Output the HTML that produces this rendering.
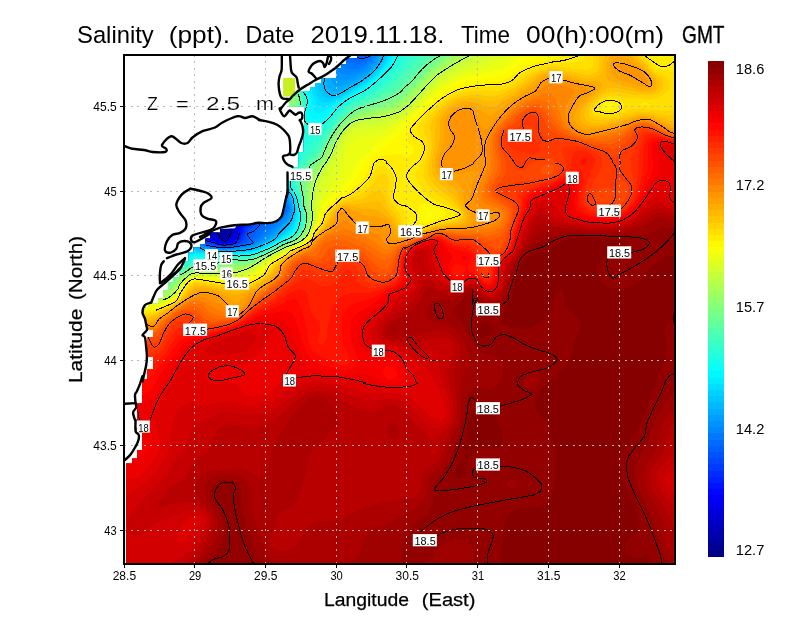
<!DOCTYPE html>
<html><head><meta charset="utf-8"><title>Salinity</title>
<style>html,body{margin:0;padding:0;background:#fff}svg{display:block}text{font-family:"Liberation Sans",sans-serif}</style></head>
<body>
<svg width="800" height="618" viewBox="0 0 800 618">
<rect width="800" height="618" fill="#fff"/>
<defs><clipPath id="sea"><path clip-rule="evenodd" d="M126,54.5 676,54.5 676,564.5 126,564.5Z M126,54.5 357,54.5 357,58.5 346.2,58.5 346.2,64 341.2,64 341.2,68.5 336.2,68.5 336.2,78 321.5,78 321.5,83 315.2,83 315.2,87 310.2,87 310.2,91.6 304.2,91.6 298.5,91.6 289.1,100.5 289.1,106.6 304.2,106.6 303.8,152.5 298.8,152.5 298.8,167.5 292,167.5 292,180 288.8,180 288,190 287,195 285,202.5 283,211 281,217 276,221.5 267.5,223 257.5,223 250,224.5 237.5,225 235,228.8 220,228.8 220,232.5 210,232.5 210,238.8 205.6,238.8 205.6,244 200,244 200,247.5 193.8,247.5 193.8,252 188.8,252 188.8,261 184.4,261 184.4,267 179.4,267 179.4,277.5 173,277.5 173,282.5 168,282.5 168,290 163,290 163,298.8 158,298.8 158,303.8 148.8,303.8 148.8,307.5 146,307.5 143.5,312.5 146,318.8 147,325 147.5,329.4 153,329.4 153,337 147,337 147.5,347.5 148,357 153,357 153,369.4 147,369.4 147,379 142,379 142,403 137.5,403 137.5,420 136.5,433 142,433 142,450 137,450 137,458.8 132,458.8 132,463.8 126,463.8Z"/></clipPath></defs>
<g clip-path="url(#sea)" shape-rendering="crispEdges">
<rect x="124.0" y="54.5" width="552.5" height="510.5" fill="#00009f"/>
<path fill-rule="evenodd" fill="#0000ac" d="M124,54 676,54 676,567 124,567ZM220,224.9 219.5,231 220.8,234 223,235.5 226,235.1 227.9,231 227.5,228 226.1,225 223,223Z"/>
<path fill-rule="evenodd" fill="#0000b9" d="M124,54 676,54 676,567 124,567ZM220,213.9 217,216.3 215.7,219 214.8,222 215.4,228 217.7,234 220,236.4 223,237.8 226,237.7 229.6,234 230.5,231 229.9,225 226,218.1 223,215.1Z"/>
<path fill-rule="evenodd" fill="#0000c6" d="M124,54 676,54 676,567 124,567ZM217,206.4 214,207.8 210.8,213 209.6,219 210.8,225 213.2,231 218,237 223,239.2 226,239.2 229.8,237 231.6,234 232.7,228 232,223.3 229,216.2 223,207.9 220,206.3Z"/>
<path fill-rule="evenodd" fill="#0000d2" d="M124,54 676,54 676,567 124,567ZM208,197.9 203.7,207 203.3,210 205.2,219 208.6,228 212.3,234 215.6,237 221.4,240 227.4,240 232,236.4 234.4,228 233.1,219 229,207.5 226,201 223,196.7 220,196.6 217,198.5 211,197.5Z"/>
<path fill-rule="evenodd" fill="#0000df" d="M124,54 676,54 676,567 124,567ZM202,185.7 199,186.2 198,189 195.6,201 195.9,204 199,213 205.7,228 209.6,234 213,237 218.5,240 223,241.2 230,240 233.2,237 234.6,234 236,225 235,214.4 233.4,207 229,196.1 224.3,189 220,185.4 217.8,186 214,189.3Z"/>
<path fill-rule="evenodd" fill="#0000ec" d="M124,54 676,54 676,567 124,567ZM187,171.9 183.1,186 183.5,189 187.4,198 204.9,231 210.4,237 220,241.3 226,242 232,240 234.8,237 236.8,231 237.7,225 237.8,210 236.6,204 229.3,192 223,184.7 217,179.7 205,174 199,174.1Z"/>
<path fill-rule="evenodd" fill="#0000f9" d="M124,54 676,54 676,567 124,567ZM169,147 166,150 167.9,156 168.9,165 170.4,168 172.4,177 184,199.9 202.7,231 207.7,237 213.5,240 220,242.2 226,242.8 233.8,240 236.1,237 237.3,234 239.3,225 241.1,210 241.1,207 239.8,204 228.7,189 220,180 211,173.6 193,158.9 184,153.5Z"/>
<path fill-rule="evenodd" fill="#0006ff" d="M124,54 676,54 676,567 124,567ZM148,131.7 148.8,135 160,156.2 168,177 173.9,189 188.2,213 202.8,234 208,238.6 220,243 229,243 235.5,240 238.6,234 243.4,213 243.9,207 242.4,204 223,181.2 208,169.1 179.8,144 175.3,141 160.7,135 152.4,132Z"/>
<path fill-rule="evenodd" fill="#0013ff" d="M124,54 676,54 676,567 124,567ZM139,127.2 137.8,129 148,152.8 159.8,174 176,201 200.9,234 203.7,237 208,240 220,243.6 229,243.6 232,242.9 237,240 239.8,234 246.6,210 244.7,204 238,197.1 229.1,186 220,176.9 208,167.4 178.5,141 165.1,135 160,133.8 149.9,129 142,127.1Z"/>
<path fill-rule="evenodd" fill="#0020ff" d="M124,54 676,54 676,567 124,567 124,153.9 124.7,153 124,152.4 124,129.6 130,136.6 145,159.4 151,169.9 155.6,180 161.1,189 170.3,201 185.9,219 199.1,234 205,239.5 214.6,243 223,244.6 229,244.2 235,242.6 238.5,240 240.2,237 249.3,213 249.5,210 246.8,204 238.1,195 226,180.7 220,175.1 208,165.9 180.4,141 174.8,138 160,132.7 145.4,126 136,123.1 130,122.4 124,119.9Z"/>
<path fill-rule="evenodd" fill="#002dff" d="M124,54 676,54 676,567 124,567 124,168.8 127,169.8 159.4,198 165.1,204 178,214.9 200.3,237 204,240 208,241.8 223,245.2 229,244.9 236.2,243 240.1,240 244,229.4 252.7,213 252.6,210 249.2,204 227.5,180 220,173 205,161.7 181.8,141 176.5,138 157,130.6 147.6,126 139,122.8 133,121.8 124,118.2Z"/>
<path fill-rule="evenodd" fill="#0039ff" d="M124,54 676,54 676,567 124,567 124,185.8 127,187.2 145,200 154,203.6 160,207.1 187,227.1 202.3,240 208,242.8 217,244.9 223,245.8 232,245 238.1,243 241,240.6 246.5,228 254.7,216 255.8,213 254.2,207 248,198 231.1,180 220,169.9 205,160.1 183.1,141 178,137.9 160,131.2 142,123 133,120.7 124,116.9Z"/>
<path fill-rule="evenodd" fill="#0046ff" d="M124,54 676,54 676,567 124,567 124,191.3 139,201.6 148,209.7 154,213.3 166,218 181,226.4 202,240.8 208,243.6 219.5,246 226,246.3 232,245.6 241,242.2 243.5,240 247,230.2 258.1,216 258.8,213 254.2,198 250,190.8 235,176.7 226,170.6 217,162.3 214,160.2 208,159.6 205,158 184.3,141 179.5,138 166,132.3 160,130.6 143.7,123 130,118.8 124,116.2Z"/>
<path fill-rule="evenodd" fill="#0053ff" d="M124,54 676,54 676,567 124,567 124,206.3 139,210.5 154,219.3 178,228.1 187,232.5 205,243.4 223,246.9 235,245.7 242.2,243 244,241.5 245.6,240 247,234 248.8,231 259.6,219 261.5,216 262,213 258.4,198 253,187.7 235,169.5 226,164.8 215.8,156 211,154.3 205,154.3 202,152.8 180.9,138 166,131.6 160,130 145,122.8 133,119.3 124,115.6Z"/>
<path fill-rule="evenodd" fill="#0060ff" d="M124,54 676,54 676,567 124,567 124,211.4 160,226.4 181,232.2 205,244.2 212.3,246 223,247.4 235,246.4 244.9,243 248.3,240 250,233.5 264,219 266.8,213 266.6,210 261.3,198 250,177.9 247,173.8 229,156.8 220,155 202,149.4 193,145.2 182.2,138 175,134.6 160,129.4 145,122.2 133,118.7 124,114.9Z"/>
<path fill-rule="evenodd" fill="#006cff" d="M124,54 350.1,54 352.4,57 355,58.5 361,59.4 367,57 368.3,54 676,54 676,567 124,567 124,216.2 166,232.1 178,233.9 184,235.7 205,245 217,247.4 226,247.9 238,246.3 248.3,243 252,240 254.7,234 262,225.9 271,218.7 280.8,213 283.9,210 283.5,207 280,203.6 274,201.5 268,200.4 265,198.3 260.3,192 247,168 238.8,159 229,153.8 217,152 196,145 175,134 160,128.7 145,121.6 133,118.2 124,114.3Z"/>
<path fill-rule="evenodd" fill="#0079ff" d="M124,54 339.9,54 341.5,57 346,61.5 349,63.3 355,64.8 361,64.1 367,61.5 370,58.8 372,54 676,54 676,567 124,567 124,219.7 166,235.1 187,238.7 208,246.6 220,248.3 229,248.3 242.9,246 252.1,243 255.6,240 266.3,228 286,213 287.2,210 286,204.7 283,201.2 277,197.9 265,193.7 262,190.8 247.7,165 241,158.3 229,152.1 217,150.4 193,142.7 175,133.3 160,128 145,121 133,117.6 124,113.7Z"/>
<path fill-rule="evenodd" fill="#0086ff" d="M124,54 334.6,54 336.7,60 340,64.6 346,68.7 352,69.7 358,68.9 367,64.8 372.1,60 374.5,54 676,54 676,567 124,567 124,222.1 151,232.6 169,238.5 190,241.1 208,247.3 220,248.9 229,248.9 247.3,246 255,243 286,215.7 289.2,210 289,207 287.7,204 286,200.7 283.2,198 265,189.6 262,186.7 256,177.8 249.9,165 247.6,162 241,156.9 229,150.8 214,147.9 193,141.6 175,132.6 157,126.1 142,119.1 133,117.1 124,113.1Z"/>
<path fill-rule="evenodd" fill="#0093ff" d="M124,54 330.6,54 333.3,63 337,69.4 340,72.3 343,73.9 349,74.7 358,72.6 367,67.7 373,62.2 376,57.1 376.7,54 676,54 676,567 124,567 124,224.3 151,235.3 169,240.7 190,242.7 211,248.5 223,249.6 232,249.2 250,246.3 257.5,243 268,235.4 286,218.2 289,214.4 290.4,210 289,202.6 286,197.6 282.9,195 265,185.4 262,182.9 257.7,177 249.8,162 241.6,156 229,149.4 193,140.3 178,133.1 158.5,126 142,118.4 133,116.4 124,112.6Z"/>
<path fill-rule="evenodd" fill="#009fff" d="M124,54 326.2,54 329,63 334,74 337,78.3 340,79.9 343,80.3 349,79.4 355,77.3 367,70.5 374.8,63 376.7,60 378.8,54 676,54 676,567 124,567 124,226.6 136,232.6 151,238.3 169,242.8 178,244 193,244.6 205,248.2 214,249.6 232,249.8 253,246.4 269.4,237 286,220.6 289.5,216 291.6,210 289.7,201 286,195.2 262,178.3 259,174.9 252.2,162 248.5,159 229,148 220,144.5 211,141.3 202,141.1 193,139 175,130.8 160.6,126 145,118.6 133,115.7 124,112Z"/>
<path fill-rule="evenodd" fill="#00acff" d="M124,54 322.3,54 331.6,81 334,85.1 337,86.5 340,86.4 349,83.2 358,78.8 367,73 373,67.8 377,63 380.9,54 676,54 676,567 124,567 124,229.1 142,238.9 154,242.3 166,244.6 178,246 193,245.9 208,249.6 220,250.7 232,250.4 244,249.1 256.7,246 272.2,237 289,219.5 292,213.5 292.6,210 291.8,204 289,196.7 286,193.2 273.3,183 262,172.5 259,168.8 255.9,162 252.3,159 247,157.2 238,152.6 229,146.6 211,137 202,138.5 195.3,138 156.7,123 145,117.6 133,115 124,111.4Z"/>
<path fill-rule="evenodd" fill="#00b9ff" d="M124,54 318.5,54 325.1,75 327.5,87 329.5,90 334,91.8 340,90.6 347.4,87 358.6,81 367.4,75 373,70.3 379,63 382.9,54 676,54 676,567 124,567 124,232.3 144.6,243 163,247 178,247.9 193,247.2 208,250.4 220,251.3 247,249.5 258.9,246 274.6,237 289,222.2 292.3,216 293.5,210 292.1,201 289.2,195 277,183 266.9,171 264.8,168 263.2,162 260.6,159 247,156.1 238,151.7 208,129.6 205,131.2 202,134.2 193,134.6 190,134 145,116 133,114.3 124,110.7Z"/>
<path fill-rule="evenodd" fill="#00c6ff" d="M124,54 151.4,54 163,68.6 169,73.2 169.9,72 169.1,69 163.7,63 160.6,57 159.9,54 314.5,54 320.6,75 322,87 323.1,90 325.3,93 328,94.8 331,95.5 337,94.6 340.8,93 361,81.7 370,75.1 376,69.4 381,63 384.9,54 676,54 676,567 124,567 124,235.1 127,235.9 139.8,243 148,246.6 154,248.5 163,249.7 172,250.1 196,248.7 208,251.3 220,251.9 247,250.3 253.6,249 261,246 272.6,240 276.8,237 289.1,225 292.4,219 294.4,210 292,197.9 289,193 282.3,186 275.4,177 270.3,168 268.5,162 266.4,159 262,157.2 247,155 236.6,150 224.9,141 215.5,132 204.3,117 199,114.9 197.4,117 197.1,120 198.8,126 196,128.7 193,128 187,129.9 181,128.3 151,115 142,112.5 136,113.6 124,109.5Z"/>
<path fill-rule="evenodd" fill="#00d2ff" d="M124,54 148.1,54 149.5,57 155.3,63 160,70.2 166,76.2 171.9,84 180.8,93 182.7,96 184,102 187.3,108 187.8,111 187,114.9 181.6,117 182.9,123 181,124.3 175.6,123 157,113.5 133,103.6 130,103.5 129.1,105 129.9,108 124,108.3ZM161.3,54 310.4,54 316.6,75 318.5,90 322.4,96 325,97.8 328,98.7 334,97.9 340,95.6 360.4,84 367,79.4 375.7,72 380.8,66 384.6,60 386.8,54 676,54 676,567 124,567 124,237.3 127,238 151,249.9 166,252.7 172,252.6 196,250 208,252.1 220,252.6 247,251.1 256,249.1 263.1,246 269.4,243 278.8,237 289.1,228 292.7,222 295.2,213 294.5,204 292,195.9 282.1,183 278.4,177 270.7,159 265.9,156 250,154.4 244,152.7 238,149.9 223.3,138 215.4,129 208,116.2 188.7,96 181,83.4 174.5,75 172,70.1 164.1,60Z"/>
<path fill-rule="evenodd" fill="#00dfff" d="M124,54 141.8,54 151,64.8 157,74.4 170.5,90 172.9,96 172.7,99 174.1,108 173.6,114 172,117 169,116.5 157,109.7 124,95.7ZM162.6,54 306.1,54 313.2,75 314.2,87 315.7,93 319.6,99 322,101 325,102 331,101.2 340,97.6 367,81.3 376,73.8 382.8,66 386.6,60 388.8,54 676,54 676,567 124,567 124,239 127,239.7 151,251.9 166,254.9 172.6,255 196,251.3 208,253 220,253.3 250,251.5 258.4,249 271.4,243 288.8,231 292,226.8 294.2,222 296.1,213 295.8,207 293.8,198 292,194.1 282.4,180 274,157.7 272.3,156 268,154.7 247,152.8 238,148.7 224.5,138 217,129 208.2,114 190.9,96 181.1,81 175.9,75 172.6,69 167.3,63Z"/>
<path fill-rule="evenodd" fill="#00ecff" d="M124,54 134.8,54 136.8,57 145.5,66 151,74.6 165.7,93 169.2,105 169,110 166,109.7 157,104.4 146.2,102 124,92.3ZM163.5,54 301.9,54 310.1,75 311,87 313,94.8 318,105 319,106.1 322,106.8 328,105.2 337,101.1 367,83.1 376,75.8 382.4,69 386.9,63 390.9,54 676,54 676,567 124,567 124,240.8 130,243 151,253.7 166,257 175,256.9 196,252.7 208,253.9 220,254 250,252.2 259,249.6 267.2,246 287.5,234 293,228 295,224 296.9,216 296.6,207 294.7,198 284.4,180 278,156 274,153.4 271.7,153 259,152.7 247,151.5 238,147.5 226,138.2 218.1,129 209.4,114 192.2,96 182.1,81 177,75 173.5,69 168.4,63Z"/>
<path fill-rule="evenodd" fill="#00f9ff" d="M124,54 131.6,54 133.2,57 142,66.2 147.8,75 155.3,84 160.5,93 160,95.6 154,93.9 145,95.1 135,93 124,89ZM164.2,54 297.7,54 307.2,75 308.8,90 311.8,99 313,108 314.1,111 316,113 319,113.4 325,110.7 349,95.6 361,89 370,82.6 378.9,75 387,66 390.6,60 393.1,54 676,54 676,567 124,567 124,242.9 151,255.6 166,259.1 175,259 196,254.2 220,254.8 250,253 259,250.4 269,246 289.7,234 295,227.5 296.9,222 298,216 297.8,210 295.5,198 286.3,180 283.5,168 282.8,156 281.3,153 274,151.2 259,151.4 247,150.2 238,146.1 227.2,138 219.2,129 210.6,114 191.2,93 174.4,69 167.2,60Z"/>
<path fill-rule="evenodd" fill="#06fff9" d="M124,54 127.2,54 128.3,57 135.5,66 136.7,69 133.3,72 130,72.6 124,71.8ZM164.9,54 293,54 295.9,60 302,69 304.4,75 306.6,90 309.6,99 309.4,114 310,116.6 313,119.3 316,119.7 322,117.6 337.6,105 349,97.4 364,89 376,79.7 389.2,66 395.5,54 676,54 676,567 124,567 124,245.9 151,257.7 163,261.1 175,261 196,255.6 217,255.7 250,253.8 259,251.1 270.7,246 291.6,234 295,230 297.4,225 299,216 298.6,210 296.3,198 290.1,186 287.3,177 286.2,168 287.2,156 286.8,153 283,150 280,149.6 256,150 247,148.5 238,144.5 228.7,138 220,128.5 211,113.1 193,94.2 184.1,81 178,73.8 175,68.6 168,60Z"/>
<path fill-rule="evenodd" fill="#13ffec" d="M165.7,54 287.9,54 289.4,57 298,67.5 301,73 304.8,90 308,99 308.2,105 306.2,114 306.6,120 310,124 313,125 316,124.9 322,122.4 340.7,105 349.2,99 365.5,90 376,81.9 389.4,69 395.5,60 398.5,54 676,54 676,567 124,567 124,248.4 157,262.3 166,263.6 178,262.4 196,257.1 250,254.6 265.9,249 292,234.9 295,232 297.4,228 299.7,219 299.8,213 297.1,198 291.4,186 289.2,177 288.8,168 291.7,156 291.4,150 289,148.7 283,147.7 256,148 250,147.3 241,144.3 230.7,138 221.7,129 211,111.8 193.1,93 184.9,81 178,72.7 175,67.5 168.7,60Z"/>
<path fill-rule="evenodd" fill="#20ffdf" d="M166.5,54 282.5,54 293.7,66 298,72.9 306.6,99 306.6,105 303.4,117 303.8,123 307,128.2 310,130.7 313,131.3 316,130.5 322,126.9 343.7,105 352,99.2 367,91.2 380,81 392.4,69 402.7,54 676,54 676,567 124,567 124,250.2 157,264.5 169,266 178,264.4 196,258.6 250,255.3 259,252.6 267.5,249 292,236.1 295,233.6 298,229.2 300.8,219 300.7,213 297.9,198 292.7,186 291.1,177 292,165 298.7,150 298.9,147 295,144.9 292,144.5 277,145.6 253,145.2 246.9,144 241,141.7 229,135 223,129 211.5,111 194.2,93 178.4,72 175,66.4 169.6,60Z"/>
<path fill-rule="evenodd" fill="#2dffd2" d="M167.3,54 277.3,54 292.6,69 298,79.9 304.5,96 305.4,99 305.3,105 300.7,120 301,124.3 303.4,132 303.1,138 301,140.4 298.9,141 292,141.3 280,143.3 268,143.3 259,142.7 250.6,141 241.4,138 232,133.7 223,126.3 212.9,111 195.3,93 179.3,72 175.7,66 170.5,60ZM408.7,54 676,54 676,567 124,567 124,251.9 157,266.7 169,268.3 178,266.4 196,260 235,256.6 247,256.4 253,255.4 268,249.5 292.3,237 295.9,234 299.7,228 301.4,222 301.9,216 298.8,198 293.3,183 293.4,171 295.2,165 305.2,150 307.7,144 322,131.4 340,111.1 346,105.6 352,101.4 370,91.6 386.9,78 396.2,69Z"/>
<path fill-rule="evenodd" fill="#39ffc6" d="M168.2,54 272.7,54 283,63 289,69.5 295,79.1 303.3,96 304.4,102 303,108 298.4,120 298,123 299.1,132 298.4,135 295,138.1 283,140.4 277,141.2 268,140.8 255.4,138 229,126 223,121.7 211.9,108 196,92 180.3,72 176.8,66 171.5,60ZM415,54 676,54 676,567 124,567 124,253.7 154,268.4 163,270.6 169,270.7 178,268.3 190,263.1 196,261.4 232,257.5 247,257.2 253,256.2 265,251.6 293.7,237 297.1,234 300.8,228 302.7,219 302.5,213 299.7,198 294.8,183 295.2,174 298.4,165 343,110.9 352,103.6 370,94.4 380.7,87 397,73.4 413,57Z"/>
<path fill-rule="evenodd" fill="#46ffb9" d="M169.1,54 268.5,54 270.8,57 281.1,66 289,75.3 298,88.2 302.1,96 303,99 302.8,105 295.9,120 295,132.1 293.1,135 289,136.3 277,138.5 268.7,138 259,134.9 226,116.6 220,112.8 199,93 181.4,72 177.9,66 172,58.9ZM419.4,57 421.5,54 676,54 676,567 124,567 124,255.7 136,263.3 151,271.2 160,273.9 166,274.1 172,272.6 190,264.5 196,262.7 235,258 247,258 253,257 265,252.3 295,237 298.2,234 301,229.6 302.7,225 303.6,219 303.4,213 300.5,198 296.3,183 297.3,174 301.7,165 316,150 330.1,129 340,116.9 346,110.8 355,104.1 376,94 390.9,84 401.4,75Z"/>
<path fill-rule="evenodd" fill="#53ffac" d="M171.1,54 261.3,54 263.5,57 289,80 295,86.8 300.9,96 301.9,99 301.6,105 293.2,120 290.3,132 286,133.9 274,134.7 271,134.6 262,132 243.2,120 232,114.9 220,107.5 208,98.4 191,81 183.6,72 180.4,66 175,60ZM425.5,57 427.8,54 676,54 676,567 124,567 124,258.7 136,267.8 145.9,273 154,276.4 163,277.7 169,276.4 190,265.9 196,264 232,259.2 247,258.9 253,257.7 265,252.9 295,237.8 299.2,234 301.3,231 304.2,222 304.3,213 297.9,183 299.6,174 304,166.2 307.5,162 317.5,153 332.2,129 346,113.2 355,106.4 378.8,96 394,87.2 406,76.4Z"/>
<path fill-rule="evenodd" fill="#60ff9f" d="M184.3,54 243.4,54 247,57 277,75.2 292,86.5 297.9,93 299.5,96 300.9,102 300.2,105 290,120 286.3,129 283,130.9 265,127.8 259,125.9 247,118 235,112.8 222.2,105 210.6,96 207.9,93 203.2,84 203.9,81 208.1,78 206.6,75 187.4,60 184.9,57ZM431.2,57 433.8,54 676,54 676,567 124,567 124,263.2 138.5,273 148,277.8 157,280.7 163,281 169,279.2 187,268.7 196,265.2 229,260.5 247,259.8 253,258.5 265,253.6 295,238.6 298,236.4 302.2,231 304.6,225 305.4,219 305.2,213 299.9,186 300.6,177 303.6,171 308,165 319,155.1 326.5,141 334.1,129 343,118.3 355,108.6 382,97.9 397,89.9 409.9,78 421,66Z"/>
<path fill-rule="evenodd" fill="#6cff93" d="M436.7,57 439.5,54 676,54 676,567 124,567 124,267.7 151,282.4 157,284 163,284.2 169,281.9 181.6,273 193,267.2 232,261 250,260.2 262,255.7 295,239.4 301.3,234 304.5,228 306,222 306.1,213 301.5,186 301.8,180 302.8,177 310,166.1 320.6,156 329.9,138 335.7,129 346,117.4 355,110.6 385,99.6 397.9,93 412,80.2 424,67.2ZM206.6,60 208,59.2 211,59.5 241,67.9 262,74.8 280,82.2 289,87.2 295,91.8 298,95.6 299.3,99 298.7,105 283,124.2 280,126.4 277,126.2 259,119.8 237.2,108 234.8,105 235,96 232,90 220,76.1 209.1,66 207.3,63Z"/>
<path fill-rule="evenodd" fill="#79ff86" d="M441.4,57 443.6,54 676,54 676,567 124,567 124,271.5 151,285.3 157,287 163,287.2 169,284.6 181,274.6 193,268.3 232,262.3 244,262.2 250,261.1 268,253.6 298,238.2 302.3,234 304.1,231 306.3,225 307.2,219 303.2,186 304,179.5 306.6,174 311,168 322,156.8 329.8,141 337.3,129 346,119.2 355,112.5 361,109.8 385.7,102 400,94.8 412,83.8 425.8,69ZM234.1,81 238,80.7 268,84.6 283,88 289,90.3 295,94.3 297.8,99 298,102.2 295,107.2 279.8,120 277,121.6 271,120.5 256,113.5 252.1,111 235.6,87 234,84Z"/>
<path fill-rule="evenodd" fill="#86ff79" d="M447,54 676,54 676,567 124,567 124,275.2 151,287.9 157,289.7 163,289.9 169,287.2 181,275.9 193,269.3 217,266.3 229,263.9 241,263.6 250,262.1 265,255.7 298,239.1 304,232.8 306.3,228 307.8,222 308.2,216 306.3,204 305,189 305.9,180 311.1,171 322.1,159 332.8,138 340,127.4 349,118.3 358,112.7 385,104.7 400,97.7 406,93 427,71.1 442,59.7 445,57ZM249.9,93 262,93.5 277,92.6 286,92.9 292,94.8 293.7,96 295.8,99 295.9,102 294,105 289,108.2 274,115.6 271,115.7 258.1,111 254.3,108 248.2,96Z"/>
<path fill-rule="evenodd" fill="#93ff6c" d="M450.3,54 676,54 676,567 124,567 124,279.3 152.6,291 157,292.2 163,292.3 169,289.6 182.4,276 193,270.4 232,265.3 241,265.1 250,263.2 259,259.4 298,239.9 304.2,234 307.2,228 308.7,222 309.1,216 307.4,204 306.7,189 308,180 313.3,171 323.6,159 334,138.3 340.1,129 346,122.5 355,115.9 364,112.4 388,106.1 397,102.2 402.2,99 409.2,93 429.2,72 445.2,60ZM285.3,99 289,98.2 292,98.9 292.1,102 289,103.1 283.7,102Z"/>
<path fill-rule="evenodd" fill="#9fff60" d="M452,57 454,54 676,54 676,567 124,567 124,283.1 154,293.8 163,294.4 169,291.7 172,289.1 181,278.3 187,274.1 193,271.3 241,266.6 247,265.3 259,260.3 299.1,240 305.2,234 308,228 309.6,222 310.1,216 308.6,204 308.4,192 308.6,186 310.2,180 315.4,171 325.1,159 335.5,138 343,127.3 351,120 358,116.2 388,108.5 400,103.3 409,96.3 432.5,72Z"/>
<path fill-rule="evenodd" fill="#acff53" d="M456.1,57 458.6,54 676,54 676,567 124,567 124,286.3 151,295.2 157,296.4 163,296.2 168.3,294 172,291.1 181.5,279 187,275.1 193,272.3 199,271.2 223,270.2 241,268.1 247,266.6 256,262.8 300.3,240 306.1,234 308.9,228 310.6,222 311.1,216 309.8,204 310,192.5 310.6,186 312.4,180 317.5,171 326.6,159 336.9,138 343.1,129 349.2,123 358,117.9 385,111.9 394,109 400,106.1 409,99.3 433,74.3Z"/>
<path fill-rule="evenodd" fill="#b9ff46" d="M461.5,57 464.4,54 676,54 676,567 124,567 124,289.4 149.1,297 157,298.2 163,297.8 169,295.2 172,292.9 182.9,279 190,274.4 196,272.5 223,271.9 244,269.1 253,265.5 283.3,249 301.5,240 307,234 311.6,222 312.2,216 311.3,204 311.7,195 312.8,186 314.7,180 319,172.2 329.9,156 337,140.4 344.9,129 352,122.7 358,119.7 385,114.5 400,109 409.3,102 435.5,75Z"/>
<path fill-rule="evenodd" fill="#c6ff39" d="M468.8,57 471.9,54 676,54 676,567 124,567 124,292.5 148,298.9 157,299.9 163,299.3 168.7,297 172,294.5 181.3,282 184.2,279 190,275.3 196,273.4 226,273.4 244,270.7 250,268.5 284.7,249 302.6,240 307.9,234 312.6,222 313.3,216 313,199.4 316,183 320.4,174 330.3,159 340,138.2 346,130 352,124.8 358,121.8 385,117.3 400,111.9 412,102.5 436,77.6 451,67.5Z"/>
<path fill-rule="evenodd" fill="#d2ff2d" d="M478,57 482,54 676,54 676,567 124,567 124,295.7 148,301 157,301.5 163,300.7 172,296.1 182.5,282 185.6,279 190.6,276 199,274.2 226,275 244,272.5 253,268.7 275.2,255 301,241.9 306.8,237 308.9,234 313.8,222 314.6,216 314.9,201 316,193.8 319,182.8 322,176.5 332.9,159 340,142.2 346.8,132 352,127.4 358,124.4 382,121.4 391,118.7 400,114.8 412,105.7 439,78.6 454,69.2Z"/>
<path fill-rule="evenodd" fill="#dfff20" d="M492.4,57 495.9,54 676,54 676,567 124,567 124,298.6 148,303 157,303 163,302 172.6,297 183.7,282 190,277.3 193,276 199,275.2 229,276.4 241,275 247,273.5 253,270.6 266.7,261 276.9,255 301,242.7 307.8,237 312.6,228 315.7,219 316.9,204 322,185.3 325,178.5 335.4,162 343,142.6 349,133.8 355,129.1 358,128.1 379,126.6 388,123.7 397,119.6 409,111.5 433,87.8 442,80.2 457,71.8 487,60.1Z"/>
<path fill-rule="evenodd" fill="#ecff13" d="M508.8,57 512.4,54 676,54 676,567 124,567 124,301.4 148,304.9 154,304.8 163,303.2 169,300.6 174.2,297 185,282 190,278.2 196,276.3 226,278 241,276.8 247,275.6 256,271 268.6,261 273.6,258 289.1,249 301.8,243 308.7,237 312.2,231 316.3,222 319,206.9 322,199.1 341.2,171 343.4,159 346,150.5 349,145 354.8,138 379,133.5 394,125.3 409,114.7 439,86.7 451,78.9 469,71.6 493,64.9ZM358,145.7 358,147.5 361.2,147 361,145.8Z"/>
<path fill-rule="evenodd" fill="#f9ff06" d="M519.5,57 521.8,54 676,54 676,567 124,567 124,304.3 148,306.9 154,306.5 163,304.4 169,301.7 175,297.7 186.3,282 193,278 199,277.3 223,279.5 232,279.3 247,277.7 256,273.5 270.7,261 289,249.9 303.1,243 307,240 311.5,234 317.8,222 321,210 324,204 347.1,180 358.3,162 375.9,144 394,131.3 436,93.3 448,84.8 460,79.2 472,75.4 491.7,72 500.8,69 511,63.8Z"/>
<path fill-rule="evenodd" fill="#fff900" d="M535.4,57 542.2,54 676,54 676,567 124,567 124,307.2 148,308.8 154,308.1 163,305.5 175,299 187,282.8 193.1,279 199,278.4 229,281 247,279.8 255.9,276 262,271.3 268.7,264 272.7,261 289,250.7 304,243.3 308,240 317.8,225 322.4,213 325.7,207 337,196 346,189 352.2,183 357.2,177 366.2,162 370,157.3 376,152.1 391,143.2 397,138.5 403.3,129 408.6,123 439,94.9 451,87.2 463,82.5 472,80.1 496,76.8 502,75.3 508.6,72 523,61.7ZM427,211.6 425.9,213 425.8,216 427,217.6 430,217.4 432.4,216 432.2,213 430,211.5Z"/>
<path fill-rule="evenodd" fill="#ffec00" d="M560.1,57 565.6,54 656.1,54 658,56.4 661,57.4 664,56.2 666.4,54 676,54 676,567 124,567 124,310.2 148,310.7 154,309.8 163,306.7 175.3,300 178.3,297 187,284.3 193,280.3 199,279.6 229,282.6 247,281.9 254.7,279 262,273.9 270.8,264 274.6,261 289,251.6 304,244.1 309,240 321.1,222 324.7,213 328.8,207 337,199.4 349.1,192 359.4,183 364.6,177 372.7,162 376,158.9 379,157.2 385,155.5 400,153.9 406,156.8 409,156.4 412,154.4 414.6,150 414.2,147 409,143.2 407.7,141 407.8,135 409.3,129 416.4,120 425.3,111 442,96.5 454,89.5 466,85.6 502,80.8 508.8,78 520,69.8 529,65.4 538,62.3ZM604,104.2 601.9,108 604,110.3 605.9,111 610,110.8 614.5,108 614.5,105 610,102.7 607,102.8ZM424,203.4 421,204.5 418.9,207 418.2,210 418.1,219 418.8,222 421,223.3 427,223.1 438.3,219 444.2,216 446.3,213 442.3,210 430,204.5Z"/>
<path fill-rule="evenodd" fill="#ffdf00" d="M584.7,54 645.3,54 655,67.7 657.2,69 676,71.4 676,567 124,567 124,313.1 148,312.7 154,311.5 163,307.9 176.7,300 179.6,297 187,286.1 193,281.6 199,280.9 229,284.4 247,283.8 256,280.2 265,273.5 270,267 276.5,261 289.7,252 307,242.9 312.4,237 320.9,225 326.8,213 331.4,207 340,199.8 351.1,195 360.2,189 369.2,180 376,168.6 379,166.4 382,166 385,166.9 390.6,171 392.8,174 394.3,180 393,192 393.4,198 397,204 403.4,210 405.4,213 406.9,222 409,225.4 418,226.5 424,226.2 448.4,219 455.9,216 456.6,213 454,209.9 448,206.2 433,199 427.5,195 421.8,189 416.6,180 415.9,174 416.4,171 421,161.7 424.6,150 424,143.2 416.8,132 416.6,129 417.7,126 421.6,120 429.6,111 439.5,102 448,96.2 457,91.7 472,88.1 499,86.2 505,84.7 512.8,81 523,73.2 535,67.2 553,63.1 571,63 577,61.9 582,60 584.1,57ZM610,98.8 604,100.4 601,102.2 598,105 596.3,108 596.5,111 601.6,114 610,114.4 619,111.2 623,108 624.5,105 622.5,102 616,99.4ZM643,101.8 642,102 640.1,105 643,105.8 651.1,105 646,102.1Z"/>
<path fill-rule="evenodd" fill="#ffd200" d="M593.4,54 641.5,54 642.9,57 648.2,63 652,69 655,71.6 662.7,75 666.7,78 669,81 669.8,84 668.6,90 666.1,93 658,97.9 652,98.6 631,98.4 613,95.3 604,97.3 597.1,102 592.5,108 592,111.3 593,114 595,115.7 601,117.3 610,117.1 619,114.6 631,109.2 634,108.8 664,110.7 676,108.5 676,567 124,567 124,315.9 148,314.7 154,313.2 160,310.5 169,306 178.2,300 189.9,285 196,282.3 229,286.2 247,285.7 253,283.8 264.9,276 272,267 278.2,261 291.2,252 308,243 322.5,225 331,210 337,204.1 343,200.5 358,195.6 363.8,192 370.9,186 379,175.3 382,173.9 385,174.5 388,178.1 388.6,183 388,192 390.1,201 400,214.9 403.3,225 406,228.4 409,229.3 424,228.1 436,223.8 457.1,219 460.2,216 460.1,213 458.1,210 451,203.3 433,191.3 427,184.3 423.8,177 423.5,171 428.6,147 427.8,141 424.5,132 424.1,126 426.8,120 431.3,114 444,102 457,94.8 472,91.5 496,91.2 502,90.1 511,86.3 529,73.9 541,68.3 550,66.5 556,66.2 571,68.5 586,69.7 590,69 593.2,66Z"/>
<path fill-rule="evenodd" fill="#ffc600" d="M600.3,54 638.2,54 639.7,57 652,71.9 660.5,78 662.7,81 663.5,84 663.3,87 661.8,90 658.6,93 652,95.5 634,94.9 616,91.8 607,92.8 598,98.2 590.9,105 588.5,111 588.5,114 589.9,117 595,119.7 607,120 619,117.3 631,112.8 640,111.8 649,112.2 667,115.8 676,115.2 676,567 124,567 124,318.7 148,316.6 154,315 169,307.1 178,301.2 182.3,297 190,287 193,284.9 196,284 202,284.1 232,288.4 247,287.6 253,285.6 267.2,276 274,267 279.9,261 292,252.4 304,246.5 309,243 324.2,225 330.8,213 337,205.9 343,202.4 358,199.7 363.2,198 376,191 379,190.1 382,191.9 389,207 397,217.2 401.5,228 403,229.9 406,231.5 409,231.7 424,229.3 436,225.3 454.3,222 460,219.9 462.7,216 462.3,213 460,208.8 451,198.4 439,189.3 433,183.5 430,179 428.3,174 428.3,165 431.5,150 432,144 429.7,126 431.7,120 438.2,111 448,102.6 460,96.8 466,95.4 475,94.7 493,96.5 502,94.3 516.3,87 535,73.7 544,70 556,68.9 577,72.6 586,75.5 592,74.2 596.4,72 598.6,69 598.9,60Z"/>
<path fill-rule="evenodd" fill="#ffb900" d="M605.9,54 634.4,54 636.2,57 658.8,81 659.6,84 659.1,87 657.1,90 655,91.6 649,93.3 634,91.6 616,87.9 610,87.8 607,88.6 593.4,99 587.6,105 584.8,111 584.3,114 584.6,117 586.3,120 592,122.8 604,122.8 616,120.5 634,114.7 643,113.9 652,114.8 670,120.7 676,121.1 676,567 124,567 124,321.5 148,318.5 154,316.9 178,302.4 181,300 190,289.4 196,285.9 205,286.1 235,291.2 247,289.5 253,287.4 269.4,276 275.8,267 281.5,261 292,253.4 306.5,246 310,243.1 319,232 326,225 334.9,210 340,205.6 343,204.2 361,203.5 376,201.2 379,201.7 394,218.4 400.1,231 403,233.2 406,234 424,230.4 436,226.3 454,223.7 460.6,222 464.2,219 465,216 462.9,210 454,195.8 436,180 433,174.9 432,171 431.9,162 435.5,144 434.5,126 436.2,120 442.3,111 451,103.9 457,100.8 463,99 469,98.2 475,98.5 490,101.7 499,100 517.4,90 537.8,75 547,71.6 553,71.2 559,71.9 574,74.9 586,79 595,77.1 599.4,75 601.7,72 603.5,60Z"/>
<path fill-rule="evenodd" fill="#ffac00" d="M609.4,57 611.6,54 628.8,54 643,66.5 653.3,78 655.7,81 656.5,84 655.7,87 652,90.2 646,90.8 628.3,87 609,81 606.3,78 606.1,69 606.5,63ZM543.2,75 550,73.6 556,73.9 574,77.4 583,81.1 586,81.6 598,80.8 601,81.8 602.5,84 599.9,90 586.4,102 580.8,111 579.8,117 580.5,120 582.4,123 586,125.3 592,126.3 607,124.7 619,121.9 634,116.8 643,115.5 652,116.8 670,124.2 676,125.7 676,567 124,567 124,324.2 139,321.3 151,320.1 154,318.9 178.7,303 182.7,300 190,291.9 196,288.1 202,287.6 208,288.4 235,295 253,289.3 271,276.6 279.9,264 286.8,258 292,254.3 307,246.7 310,244.3 319,233.5 328,225 336.8,210 340,207.4 343,206.1 349,206.1 361,208.6 373,209.5 379,210.9 391,219.5 398.8,234 403,235.8 409,235.4 425.6,231 436,227.3 457,224.9 465,222 467.3,219 467.5,216 457,192.2 454,188.5 439,176.6 436,171.6 435,168 435.4,159 439.5,141 439.5,123 441.9,117 446.5,111 451,107.2 457,103.9 463,102 472,101.7 490,107.4 496,106.4 522.8,90 537.8,78Z"/>
<path fill-rule="evenodd" fill="#ff9f00" d="M617.7,57 622,56.9 628,59.1 643,69.4 652.6,81 653.3,84 652,86.8 649,88.1 641.1,87 622,80.6 616.4,78 613,75.3 610,69 610.3,63 613,59.1ZM542.6,78 550,76 559,77 574,80.1 583,83.6 592,84 595,85 596.6,87 595.7,90 581.9,102 577.7,108 575.3,114 575.2,120 576.4,123 579.1,126 583,128.2 589,129.5 604,127.6 619,124.1 634,118.6 643,117.1 652,118.5 673,128.4 676,128.8 676,567 124,567 124,327.1 139,323.5 151,322.2 154,321 180.4,303 193,292.4 199,290.1 210.2,291 221.1,294 227.4,297 235,302.3 238,302.8 241.9,297 244,295.4 253,291.2 270.7,279 276.1,273 281.5,264 288.3,258 295,253.6 307,247.8 310,245.5 319,235.1 330.5,225 332.7,222 337,212.6 340,209.5 343,208.2 349,209.1 361,214.5 376,216.7 385,219.6 388,221.2 391,224.5 394.6,234 397,237 400,237.8 409,237 436,228.3 457,226.5 466,224.3 469.7,222 471.1,219 470.8,216 464.4,204 462.4,189 460.5,186 457.1,183 442,173.2 439,168.9 438,165 438.5,159 444,141 443.8,123 446.1,117 451,111.1 454,108.9 460,106 466,104.8 472,105.4 475,106.5 487,114.8 490,115.4 493,114.5 509.8,102 529,89.5Z"/>
<path fill-rule="evenodd" fill="#ff9300" d="M617.5,63 622,62.6 625,63.4 631.6,66 640,70.8 643,73.5 647.9,81 646.4,84 637.1,81 619,72.4 615.8,69 615.2,66ZM543.5,81 550,79 565,80.8 576.3,84 589,89.1 589.6,90 589,90.6 580,97.6 576.2,102 572.3,108 570.2,114 570.5,120 571.6,123 574,126.1 580,130.1 589,132.4 598,131.3 616,127.2 634,120.3 643,118.6 652,120.1 661,124 670,129.3 676,130.8 676,567 124,567 124,330.2 139,325.7 154,323.3 164.4,315 190,297.2 199,293 208,293.7 219.1,297 224,300 232,307.7 235,309.3 238,309 242.4,306 244,304 246.9,297 253,293.5 274,278.1 278.1,273 281,267 286.2,261 294.3,255 310,246.9 321.9,234 333.6,225 335.9,222 339.8,213 343,211.3 347.9,213 355,218.8 361,222 370,223.7 385.2,225 388.3,228 390.3,237 394,240.2 400,240.2 409,238.3 436,229.1 457,228.1 466,226.8 472.1,225 477.4,222 480.1,219 477.9,216 472,211 469,207.2 467.9,204 468.1,201 475.4,177 475.7,174 475,171.5 472,171 460,173.5 454,173 445,169 442.1,165 442.7,159 450.6,141 450.5,135 448.5,126 449.4,120 453.5,114 457.9,111 463,109.2 469,109.3 473.1,111 475.8,114 481,126.4 484,129.9 487,128.6 500.7,114 510.7,105 520,98.4 534.1,90Z"/>
<path fill-rule="evenodd" fill="#ff8600" d="M548.9,84 554.5,84 568,86.7 573.6,90 573.5,93 565.8,105 565.2,114 566.4,120 569.8,126 573.1,129 578.3,132 589,134.6 601,133.2 616,129.5 634,121.9 643,120 652,121.5 661,125.6 670,130.8 676,132.4 676,567 124,567 124,333.7 142,327.1 154,325.6 162.6,318 178,306.9 193,298 199,296.4 203.9,297 211,301.1 218.3,303 231.7,312 235,312.6 238,312 245.5,306 251.9,297 277,277.3 280,273 282.8,267 288,261 296.3,255 310,248.5 322,235.9 334.8,228 343,220.4 346,220.7 352.2,225 358,227.8 376,233.4 379,235.8 384.4,243 388,244.9 391,244.7 409,239.5 418,235.6 436,229.9 457,229.7 469,228.5 487.8,225 496,222 499,218.5 499.6,216 498.4,213 493,210.4 484,208.8 479.2,207 476.3,204 475.9,201 476.6,195 479,186 487.3,165 486,147 488.3,138 494.4,126 502,117 511.3,108 520,101.4 536.2,93 544,86.4Z"/>
<path fill-rule="evenodd" fill="#ff7900" d="M539,96 547,93.3 550,93.4 553,95.1 555.2,99 556.7,105 562.5,120 566.1,126 573.8,132 583,135.4 592,136.6 607,134.6 619,131 635.1,123 643,121.3 652,123 661,127 670,132.2 676,133.5 676,567 124,567 124,337.3 142,329.4 154,327.7 157,325.8 164.8,318 176.9,309 190,301.9 196,300.1 202,300.8 211,306.6 223,312.2 232,314.6 235,314.7 238,313.8 247,306.6 252.1,300 259,292.9 277.6,279 280.1,276 284.7,267 289.8,261 298.7,255 310,250.6 320,240 325,236.1 340,229.9 343,229.1 349,230 366.5,237 372.3,240 379,246 385,249.3 388,249.7 401.2,243 410.7,240 421,235.5 436,230.8 442,230.3 457,231.3 469,230.6 487,229 496,226.2 499,224.2 502,220.1 503,216 502.4,213 499,209.2 487,204.3 484,202 481.8,198 481.4,195 483,186 489.6,171 491.1,165 489.8,147 491.4,138 493.8,132 497.2,126 514,109 526,100.8Z"/>
<path fill-rule="evenodd" fill="#ff6c00" d="M530,102 535,100.6 541,100.1 546.2,102 551.9,108 560.1,123 565.6,129 574,134.1 586,137.9 598,138.6 610,136.8 622,132.3 634,124.9 643,122.6 652,124.3 670,133.3 676,134.7 676,567 124,567 124,341 142,331.7 154,329.7 157,328.2 163.7,321 175,311.8 184,306.5 193,303.6 199,303.8 202,305 211,312.8 215.7,315 229,316.4 238,315.4 247,308.2 260.2,294 279.7,279 282.1,276 286.7,267 291.9,261 301,255.4 313,251.9 322,241 331,236.4 340,235.1 349,236 365.4,243 379,251.8 385,254.1 388,254.1 391,252.6 398.3,246 403,243.6 421,236.2 436,231.6 442,231.2 457,232.9 484,232.5 493,231.1 499,228.3 502,225.5 504.1,222 505.8,216 505.4,213 503.9,210 500.6,207 489.2,201 486.6,198 485.2,192 486.3,186 494,168 494.5,162 492.6,147 493.8,138 497.5,129 502,123.4 519.1,108Z"/>
<path fill-rule="evenodd" fill="#ff6000" d="M529.4,105 538,103.9 544,106.3 548.8,111 555.7,123 561.3,129 574,136 586,139.6 598,141 610,140.3 622,135.3 634.9,126 643,124 652,125.6 670,134.3 676,135.7 676,567 124,567 124,344.8 130,342.1 142,334.2 145,333 154,331.8 157,330.5 165.9,321 173,315 181,309.7 187,307.3 193,306.4 199,307.8 208,316.2 214,318.7 229,318.5 238,316.6 247.8,309 262,294.5 280,280.9 284.2,276 289,266.9 294.5,261 299.3,258 304,256.2 316,255.9 319,252.5 322,245.8 325,243 331,240.5 337,240 349,241.8 364,248.2 379,258.5 385,260 388,259.4 391,257.3 397.1,249 400.8,246 421,237 436,232.4 442,232.1 457,234.5 475,234.5 487,235.9 493,234.8 499,232.4 502,230.1 505,225.9 507.8,219 508.3,213 507.3,210 504.9,207 491,198 489.1,195 488.5,192 489.3,186 495.7,174 497.5,168 497.8,162 495.1,147 495.9,138 498,132 502,126 520,110.4Z"/>
<path fill-rule="evenodd" fill="#ff5300" d="M528.8,108 535,106.9 541,108.9 546.1,114 553,126 560.3,132 574,137.9 592,142.7 607,144.5 613,143.7 625,137.1 634,128.4 638.9,126 643,125.4 652,127 669.2,135 676,136.6 676,567 124,567 124,348.7 130,346.5 143.8,336 157,332.9 160,330.7 166,323.3 172,317.7 181,311.6 187,309.5 193,309.5 196,310.6 205,319 211,321.6 217,321.8 226,320.7 238,317.8 249.2,309 262,296.6 281.3,282 286.5,276 292,266.4 297.8,261 304,258.4 307,258.3 316,259.9 319,259.4 322,257.7 328,249.5 334,246.2 346,247 361,251.9 367,255.5 377.6,267 382,269.3 385,269.5 388,268.4 391,265.4 396.9,252 399.2,249 403,246.1 421,237.8 436,233.1 442,233.1 457,236.3 475,236.6 490,239.9 496,238.4 502,235.4 505,231.4 508,224.8 510.1,219 511.1,213 510.6,210 509,207 505,203.6 495.6,198 492.6,195 491.5,192 492.4,186 499.9,174 501.5,168 501.4,162 497.5,147 498,138 502,128.8 513.6,120 523,111.3Z"/>
<path fill-rule="evenodd" fill="#ff4600" d="M529,111 535,110.3 538,111.3 541,113.7 548.8,129 553,132.3 562,136.2 574,140 607,148.4 613,148.7 616,147.9 622,144.6 628,139.9 633.2,132 636.3,129 640,127.5 646,127.2 652,128.4 670,136.2 676,137.5 676,567 124,567 124,353.2 133,349.8 145,338.8 148,337.5 154,337.1 157,336.1 160,334 170.9,321 178,315.6 184,312.8 190,312.1 193,313.2 202,321.4 208,324.3 217,324.1 229,321.8 238,319 241,317.2 262,298.8 271,292.6 283,282.9 289.1,276 295,266.6 298,263.7 304,261 307,261 316,263.2 322,263.3 328,261.2 337,254.1 343,252.9 349,253.4 355.8,255 362.4,258 365.8,261 373,271.4 379,274.7 385,275.6 391,273.3 393.3,270 397.3,255 401.1,249 405.3,246 421,238.5 436,233.9 442.2,234 457,238 475,238.9 484.8,243 496,249 499,248.8 502,246.4 505,239.9 512.1,219 513.7,210 512.9,207 510.7,204 496.8,195 494.8,192 494.7,189 495.9,186 503.8,177 505.3,174 506.6,168 506,162 500.2,147 500.2,138 502,132.7 505,128.7 515.1,123 524.2,114ZM547,164.3 544,165.5 541.3,168 540.4,171 542.2,174 547,174.9 550,174.3 554.3,171 554.3,168 553,166.4 550,164.5Z"/>
<path fill-rule="evenodd" fill="#ff3900" d="M527.1,117 532,114.5 535,115.1 537.1,117 538.4,120 540.6,132 544,137.1 547,139.1 565,140.5 581.8,144 606.1,153 613,157.3 616,157.6 628,147.7 633.5,141 636.8,132 642.4,129 652,129.9 670,137.1 676,138.4 676,567 124,567 124,359.2 136.2,354 148,344.2 157,341.9 160,338.9 170.9,324 175,320.5 181,317.1 187,316 190,317 199.5,324 205,326.6 208,327.1 226,324 238,320.1 241.6,318 262,301 271,295.6 283.8,285 290.1,279 298,267.9 301,265.6 304,264.4 307,264.4 322,268.8 328,269.5 331,268.8 340,260.3 346,258.6 352,259.1 357.6,261 361,263.3 369.8,276 373,278.3 379,280.2 385,280 391,277.7 394,275.2 396,270 398.8,255 402.9,249 407.4,246 421,239.2 436,234.8 439,234.6 445,235.9 454,239.4 469,240.2 475,241.5 482.4,246 490,252.9 493,253.9 496,253.8 500.5,252 504,249 505.8,246 516.3,210 516.1,207 514,201.9 511,198.9 501,192 500.7,189 505,185.8 517,181.7 544,178.7 550,177.4 556.7,174 559.6,171 560.7,168 559.8,165 556,160.9 553,158.7 550,157.7 534.1,162 528.9,165 526,168.4 520,170.2 517,167.7 505,150.1 503.6,147 502.7,141 505,133.1 508,130.5 520,126ZM619,182.6 616,188.2 613,189.8 607,188.1 604,188.2 598,190.5 593.8,195 592.3,198 593.7,201 604,203.4 613,202.4 619,204.6 622,203.5 625,200 628,193.9 628,186 625,181.6 622,180.4Z"/>
<path fill-rule="evenodd" fill="#ff2d00" d="M642.8,132 652,131.7 670,138 676,139.3 676,567 124,567 124,365.8 133,362.1 157,349.2 161.2,345 172,327.2 178,322.7 181,321.8 184,322.2 187.5,324 202,328.3 208,329.2 217,327.7 229,324.6 241,319.6 259,305.3 273.5,297 291.3,282 301,271.3 304,269.6 310,270.2 322,275.6 328,276.5 334,274.4 340,267.3 343,264.8 349,263.7 352,264.3 356.5,267 364,278.8 368.3,282 376,284 385,283.1 393.8,279 396.3,276 397.5,273 399.4,258 401.9,252 404.6,249 421,240 436,235.7 442,236.1 454,241.3 472,243.4 476.7,246 479.9,249 487,259.9 499,255.3 505,250.6 508.9,243 512.5,228 518.4,210 517,195 518.5,192 523,188.4 529,185.6 549.3,180 556,177.2 563.9,171 565.8,168 566.3,165 562,153 561.8,150 565,146.7 574,146 583,147.1 590.9,150 596.4,153 600,156 601.9,159 602.6,162 601.4,168 586.4,195 586.1,201 587.7,204 592,207 595,207.5 616,209.2 619,209.2 622,208.1 628,202.2 631.9,195 633.4,186 631.4,171 631,156 638.1,141 640.2,135ZM484,264.9 481.3,270 482,273 484,275.9 487,276.5 488.6,273 488.1,270 487,266.2ZM509.1,138 511,136.3 514,135.5 523,137.3 532,137.6 535,139.3 539,144 540.1,147 539.8,150 537.1,153 532,154.4 526,153.6 520,150.9 514,149.9 511,147.6 508.8,144 508.2,141Z"/>
<path fill-rule="evenodd" fill="#ff2000" d="M645.9,135 649,134 655,134.3 676,140.2 676,567 124,567 124,373.7 136,368.3 157,355.1 164,348 170.9,336 175,330.7 178,328.6 181,327.8 208,331 217,329.2 235,323.6 241,320.8 259,307.6 274,300.3 289,288.2 304,278.3 307,278.2 310,279.1 319,284.9 322,285.8 328,285.6 334,283.2 337,280.7 344.9,270 349,269.5 352.6,273 356.8,282 361,285.2 367,287.4 373,288 385,285.7 393.3,282 397,278.7 399.1,273 400.7,258 403,252.7 406.3,249 421,240.8 436,236.6 442,237.3 454,243.4 469,245.5 475,249 478.8,255 479.3,258 477.8,267 479.2,273 484,278.4 487,279.4 488,279 490.6,276 491.2,264 493.2,261 505.7,252 509.4,246 514.1,228 520.3,210 520.9,198 522,195 524.5,192 529,189 553,180.7 564.5,174 570.5,168 571.4,165 571.7,156 574,152.5 580,150.7 586,151.6 589.4,153 592,155.1 594.7,159 595.2,162 594.6,165 589,177.3 583.1,195 582.9,201 583.8,204 585.8,207 589,209.2 595,210.8 616,212 622,210.7 627,207 631.6,201 635.6,192 637,183 639,150 643,138.7Z"/>
<path fill-rule="evenodd" fill="#ff1300" d="M648.4,138 652,136.5 658,136.6 676,141.1 676,567 124,567 124,382.9 139,375.6 157,361.6 166,352 174.6,339 178,335.3 184,332.9 208,332.6 217,330.7 232,326.1 241,322.2 259,310.1 275.6,303 292,291.7 298,289.6 301,289.4 305,291 307.3,294 311.2,312 313,315.2 319.1,321 320.3,324 320.1,330 317.8,342 319,344.2 322,344.4 325.1,342 326.3,339 327.1,330 331.6,309 335.2,303 340,297.7 343,295.5 349,293.4 367,293.1 373,292.3 382,289.4 394,283.9 397,281.7 400,277.1 401.9,258 404.9,252 409,248.2 421,241.6 436,237.6 442,238.9 454,245.8 466,247.9 472,250.9 474.8,255 475.3,258 474,267 474.9,270 479.2,276 484,280.5 487,281.6 490,280.7 492.5,276 493.9,264 496.3,261 507.3,252 510.8,246 515.6,228 522,210 524,198 526,194.7 532,190.3 553,182.7 571,172.9 580,169.1 582.4,174 583,180 580.4,195 580.1,201 580.6,204 583,208.4 589,212.2 595,213.6 613,214.4 622,212.8 629.6,207 634,201 637.1,195 639.6,186 643.3,165 643.5,147 645.9,141ZM581.1,159 583,157.6 586,157.9 587.1,159 587.1,162 586,163.9 583,166 581.1,165 580,162Z"/>
<path fill-rule="evenodd" fill="#ff0600" d="M650.5,141 655,138.7 658,138.4 676,142.3 676,567 124,567 124,392.3 130.1,390 145,382.2 163,362.4 176.1,345 181,339.8 187,337 211,333.7 229,328.5 241,323.6 259,312.9 277,306.7 292,299.1 295,299.1 298,301.1 301,307.6 305.2,321 309.5,345 312.8,351 319,355.7 331,360.3 340,365 343,365.9 346,365.4 348.8,363 349.5,360 348.8,357 344.3,348 342.7,339 341.9,321 342.2,318 344.5,312 349,306.3 352,304.4 373,297.6 394,286.3 399.6,282 401.5,279 402.2,276 402.2,264 403.1,258 406,252.6 409.4,249 421,242.4 436,238.8 441,240 451,247.7 457,250.2 466,251.3 469,252.9 470.8,255 471.6,258 469,265.9 467.6,267 469.2,270 475,273.9 484,282.4 487,283.7 490,283.3 493.5,279 494.9,267 496.1,264 508.8,252 512.1,246 517,228 523.7,210 525.5,201 529.2,195 535,191.4 553,184.7 565,178.2 571,176.4 574,176.5 577,178.3 578.9,183 577.4,204 580,209.7 583,212.4 589,215 598,216.4 613,216.6 622,214.7 628,210.9 632,207 638.1,198 640.7,192 648,168 648.4,162 647.5,147ZM454,265.5 451.6,270 452,273 454.5,276 457,276.8 460.4,276 463.9,273 465.8,270 464.1,267 460,265.2 457,264.7Z"/>
<path fill-rule="evenodd" fill="#f90000" d="M656.4,141 664,140.6 676,143.5 676,567 124,567 124,400.2 136,395.2 148,392.2 151,390.2 159.6,375 178,350 184,343.6 193.2,339 214,334.6 232,328.8 241,325.2 256,317.3 262,315.2 286,310.3 290.8,312 295,317.9 304.5,348 307.5,354 312.4,360 319,363.9 340,369.9 346,370.4 351.4,369 355.2,366 357.4,363 358.2,360 357.8,357 352.5,345 350.9,339 350.1,330 351.6,321 355,315.7 358.8,312 376,301.7 384.5,294 397,287.1 402.5,282 403.9,279 404.2,276 403.3,267 404.4,258 407.8,252 410.9,249 421.9,243 435.6,240 439,241 442,243 452.2,255 452.7,258 448.6,264 448.1,267 449.1,273 451,276.2 454,278.4 457,279.2 460,278.8 469,274.4 472,274.7 475,276.3 484,284.3 487,285.7 490,285.8 493,283.9 494.2,282 495.3,279 496.7,267 498.1,264 508,254.4 512,249 519.6,225 525.5,210 527.9,201 532,195.7 541,191.1 556,185.5 565,180.4 571,179.5 574,181.3 575.1,183 575.6,189 574,204 575.7,210 578.6,213 586,216.7 598,218.6 613,218.7 622,216.6 628.1,213 634,207.5 638.7,201 643.5,192 652.7,171 653.5,165 651.6,153 651.6,147 652.8,144ZM388,365.6 385,367.4 384.1,369 383.3,372 383.6,375 386,378 388,379.1 391,379.6 394,379 395.5,378 397.2,375 397,371.9 394,367.4 391,365.7ZM460,258 463,255.4 466,256.5 466.8,258 466,259.6 463,260.1Z"/>
<path fill-rule="evenodd" fill="#ec0000" d="M657.6,144 661,142.6 664,142.4 676,145.2 676,567 124,567 124,456.3 133,457.5 142,455 149,450 150.6,447 150.7,444 148,439.6 145,437.7 131.6,435 124.7,432 124,429 125.3,426 125.6,417 128.2,411 133,405.6 139,402.9 148,400.6 154,396.5 178,358.1 184,350.2 189.7,345 199,340.4 229,331.5 256,320.7 268,318.7 280,318.6 284.5,321 289,326.8 304,362.6 306.5,366 310,368.3 316,370.2 343,374.5 352,374.7 367,373.4 379.6,381 385,383 391,384 397,383.1 400.8,381 402.9,378 403.4,375 401.8,369 398.3,363 395.3,360 391,357.7 385,356.7 373,356.6 367,354 364,351.4 359.8,345 357.8,339 357.3,330 359.1,324 363.6,318 379,305.7 389.2,294 400.2,288 403.7,285 405.8,282 406.7,279 404.8,267 405.1,261 407.3,255 412,249.5 418,245.8 424,243.5 433,242 436,242 438.2,243 440.7,246 442.9,252 443.7,264 444.9,270 447.8,276 450.6,279 454,280.7 457,281.2 460,280.9 469,277.1 472,277.1 475,278.2 484,286.3 487,287.9 490,288.3 493,287.1 496.3,282 498.5,267 502.4,261 509,255 513.3,249 523,220 530.5,201 533.1,198 544.8,192 556,188.2 565,182.9 568,182.3 571,183.6 572.2,186 570,207 570.7,210 574,214 583,218.3 592,220.3 610,220.9 616,220.3 622,218.6 631,213 636.9,207 641.4,201 652,182.4 657.9,174 659.8,168 659.2,162 656.1,150 656.1,147Z"/>
<path fill-rule="evenodd" fill="#df0000" d="M661.7,147 664,145.3 667,144.9 676,147.8 676,158.7 670,159.9 667,158.7 663,153ZM657.8,186 661,184.5 664,184.9 667,188.7 670,196.1 673,198.9 676,199.8 676,567 124,567 124,480 133,478.9 139,476.9 151,463.4 157,454.4 159.8,447 160.1,441 158.9,435 153.7,420 154.2,414 163,395.4 172.8,381 184.6,360 191,351 198.2,345 203.9,342 238.5,330 253,325.7 259,325.2 265,325.9 268.5,327 272.5,330 273.2,333 268,339.1 261.3,351 253,358.2 244,364.5 241,365.7 238,365.8 229,364.1 220,364.8 216.5,366 205.7,372 204.4,375 205.1,378 207.2,381 211,383.1 217,383.8 232,382.8 235,383.2 238,385.6 243.6,393 247,395.9 250,396.8 259,394.5 265,395.6 268,394.8 280,381 283,378.8 289,377.1 298,377.7 316,376.5 334,377.7 352,380.6 370,385.6 385,387.9 397,388.3 415,386.7 418.1,384 417.7,381 414.7,375 404.2,360 401.2,357 394,352.7 376,349.1 370,346.2 366.1,342 364.8,339 364,333 365.4,327 367.1,324 385.2,306 391.2,297 403,290.2 408.1,285 409.7,282 410.1,279 406.3,267 406.5,261 408.8,255 414.4,249 419.9,246 424,244.9 433,244.7 435.6,246 438.1,261 440.8,270 444.3,276 448,280 451.1,282 457,283.3 462.9,282 469,279.3 472,279.1 475,280.1 484,288.4 487,290.1 490,290.6 493,289.8 495.3,288 497.2,285 498.8,279 500.4,267 504.3,261 511,254.6 514.7,249 525.3,219 532,203.9 535,200.2 539,198 553,193.3 565,187.8 566.9,189 567.1,192 564.7,204 564.6,210 566,213 569.3,216 576.8,219 588.6,222 601,222.9 613,222.7 622,220.6 628,217.5 634,213.1 642.3,204 652,191.3Z"/>
<path fill-rule="evenodd" fill="#d20000" d="M654.8,198 658,197.8 661,198.8 670,204.4 676,206.1 676,567 124,567 124,496.2 133,491.4 148,481 154.7,474 158.8,468 167.5,453 170,447 171.3,441 170.9,432 171.8,426 176.6,411 179.2,408 190,402.4 193,402.7 199,405.2 202,405.4 226,401.1 232,401.8 247,405.8 253,405.1 259,402.9 268,404 274,401.4 286,390.9 292,387.5 310,382.3 322,381.6 343,384.9 367,393.1 391,393.3 406,395.5 412.9,399 430,415.8 436,419.2 439,420 442,419.8 445,417.9 445.9,414 442.4,396 426.4,369 416.3,360 407.4,354 397,349.4 379,343.9 373.1,339 371.6,336 371.3,330 372.3,327 376.4,321 391,306 395.8,300 406,293.4 408.5,291 412.6,285 414,279 413.2,276 409,268.8 408.2,264 409.2,258 413,252 418,248.4 424,246.4 427,246.9 430,248.6 431.4,252 433.9,264 437.5,273 442.4,279 448,283.3 452.3,285 457,285.5 463,283.9 469,281.3 472,281 475,282 484,290.5 487,292.2 490,292.9 493,292.3 496,290.4 499.3,285 502.5,267 505,262.8 512.3,255 516.2,249 527.7,219 535,205.6 538,203 541,201.8 547,201 553,202.7 554.4,204 556.4,210 558.3,213 561.9,216 568,219.4 589,224.1 610,224.8 619,223.5 629.5,219 637.7,213 649,201.4ZM190,518.6 183.3,525 177.3,534 176,540 178,543.1 181,543.7 184.3,543 187,539.8 191.9,531 199,525.1 201.4,522 201.4,519 199,516.6 196,516.1ZM239.5,333 250,331.9 253.6,333 255.6,336 255.6,339 253,344.8 247,350.8 241,352.6 220,355.1 214,355.4 207.5,354 205.8,351 207,348 210.5,345 230.6,336Z"/>
<path fill-rule="evenodd" fill="#c60000" d="M657.2,204 661,204.5 670,208.3 676,209.9 676,469.2 667,472.4 665.1,474 664,477 667,486.2 670,489.8 676,492.6 676,567 164.9,567 168.9,564 187,554.1 193,548.7 205.4,525 205.9,519 204.8,516 202.1,513 199,511.2 193,509.8 184,511.5 166,519.5 157,522.1 154,523.7 145,533 139,535.6 133,535 128.5,531 127.1,525 127.4,522 129.9,516 143.7,498 168.5,474 169.5,468 170.9,465 181.1,453 185.8,444 190,433.3 192.9,429 202,421.6 220,412.6 226,411.5 229,411.7 247,414.7 268,412.1 277,407.7 291.4,396 298,391.9 310,387.2 319,386.2 328,387.4 340,390.9 355,397.5 364,400 373,400.8 391,398.5 397,399.4 404.1,402 409,405.1 422.4,420 430.6,426 436,427.7 439,427.5 445,424.8 447,423 449.3,420 450.4,417 450.3,411 447.5,396 440,375 439.3,369 439.5,357 439,353.2 437.7,351 415,349.6 388,343.2 380.4,339 378.1,336 377,333 377.9,327 381.7,321 397,306.6 409,297.2 413.6,291 416.9,285 418.4,279 418,276 412,267.1 411.2,264 411.8,258 415.7,252 421,249.2 424,249.2 426.9,252 428.1,264 430,270 436.7,279 445,285.3 451,287.6 457,287.7 469,283.2 472,282.8 475,283.9 484,292.6 487,294.4 490,295.1 493,294.7 496,293.2 500.2,288 502.1,282 504.8,267 517.9,249 529.1,222 535,212 538,208.9 541,207.5 544,207.7 547,210 550,214.5 553,217 568,222.5 589,226 610,226.6 619,225.5 628,222.4 637,217.1 649,206.8 652,205.1Z"/>
<path fill-rule="evenodd" fill="#b90000" d="M652.2,210 658,208.5 661,208.7 676,213.6 676,452.2 659.5,468 657.5,471 656.2,477 658,485.5 661.2,492 667,499 676,506.6 676,567 183.9,567 196.5,552 205.2,537 208,530.8 209.6,525 209.5,519 208.6,516 205,510.6 202,507.8 193,502.8 187,502.1 178,503 169,504.7 160,507.8 156.7,507 156.7,504 163,496.3 167.6,489 170.9,486 181,481.6 183.1,480 194.3,462 199,457.2 208.7,450 212.7,438 216.6,432 220,428.3 223.1,426 229,424.2 238,425.1 250,428.2 256,427.5 265,424.9 277,417.9 294.5,402 302.3,396 310,392.1 319,390.7 327.6,393 358,408.4 373,412 376,411.1 386.2,405 391,404.1 395.4,405 404.1,411 413.7,423 424.3,432 430,438.5 433,440.3 436,439.1 448,428 451.6,423 453.7,417 453.9,411 452.6,399 447.2,375 448,368.1 453.9,351 453.6,345 452,342 448.2,339 442,337.5 436,338 418,342.4 403,342.4 391,340.8 385,337.7 381.9,333 381.7,330 382.5,327 386.9,321 397,312.8 409,305.2 415,297.4 424,281.8 427,279.7 430,280.2 442,288.1 448,290.3 457,290.3 469,285 472,284.7 475,285.9 481,292.2 487,296.6 490,297.4 496,295.9 499,293.5 502.3,288 506.2,270 508,265.5 518,252 532,223.7 538,215.1 541,214 544,215.5 550,220.9 562,224.3 586,227.6 610,228.5 622,227 631,223.9 639.7,219ZM433,447.7 430.8,450 430.7,453 433,454.6 436.2,453 435.7,450ZM417.1,258 418,256.3 421.1,258 420.1,261 418,262.8 417,261Z"/>
<path fill-rule="evenodd" fill="#ac0000" d="M657.1,213 664,213.2 676,217.8 676,424.4 673,425.7 670.5,429 667.9,441 664.4,450 661.1,456 652.4,468 650.3,474 650.2,480 651.6,486 654,492 669.3,516 673.9,528 674.4,534 673.5,543 676,546 676,567 192.6,567 195.7,561 209.4,540 212.8,531 213.7,525 213.3,519 211.1,513 196.9,495 195.3,492 194.6,489 194.9,486 199.8,477 205,471.6 211,469.4 226,469.8 238,467.4 244,468.9 256,476.3 259,477 262,476.6 265,474.8 267.6,471 268.5,468 271,450.7 280.7,432 293,414 308.3,399 313,396.1 316,395.4 320.3,396 325.1,399 328,402 332.7,408 336.1,414 337.9,420 337.9,423 336.4,426 329.8,432 322,441.8 313,449.3 310.7,453 307.9,462 301.9,489 297.4,501 292,506.5 280,512.5 276.8,516 271.5,540 272.4,546 274,548.4 277,550.5 283,551.7 289,550.5 292,549 298.7,543 307,527 310,524.2 313,522.8 334,520.6 343,517.4 370,505.4 394,499.7 412,497.4 418,494.2 419.8,492 421.2,489 421.5,486 420.3,477 420.7,474 422.4,471 425.8,468 436,462.8 440.4,459 443.2,453 445.5,441 453.9,426 456.2,420 457.1,414 457,402 453.5,375 454,371.8 459.8,357 460.3,348 458.5,342 454,336 451,333.8 445,331.2 439,330.4 433,330.8 400,337.5 394,337.9 391,337.3 388,335.5 386.2,333 385.9,330 387,327 391,322.8 409,313.3 414.4,309 418.8,303 424.4,291 427,287.8 430,287.3 442,293.4 451,294.4 457,293.3 469,287.1 472,286.6 475,288 484,297.4 487,299.2 493,299.8 498.7,297 502,293.2 505.5,285 508.8,270 511.4,264 538,224.1 541,222.7 553,226.9 583,229.4 604,230.4 616,230.1 625,228.7 634,226 642.1,222 652,215.1ZM390.4,423 391,422.3 394,422.6 397,425.2 398.9,429 399,435 397,437.8 394,439 389.5,438 387.7,435 387.5,429Z"/>
<path fill-rule="evenodd" fill="#9f0000" d="M656,219 661,217.4 664,217.9 676,222.8 676,410 670,414.3 663.1,423 660.9,429 655.8,450 653,456 648.2,462 644.9,468 643.4,477 644.1,483 647.1,492 662.7,522 664.9,531 666.4,546 670,552.3 676,558.3 676,567 348.5,567 358,556.3 365.7,537 370,531.4 376,528.1 388,523.4 406,513.9 418,506.1 422.7,501 425.6,495 427.7,483 429.8,477 433,472.8 442,464.2 445.5,459 451.4,441 458.8,423 460.5,414 462.5,378 463,375 468.1,363 468.6,357 468,351 463,338.2 459.4,333 454,327.9 445,323.7 431.6,321 426.9,318 425.3,315 425.9,312 430,304.4 433,302.1 436,301 454,298.6 460,295.9 469,289.6 472,289 475,290.8 481,297.9 487,302.4 493,303.2 499,300.4 502.5,297 505.8,291 511.7,270 516,261 535,236.6 541,231.8 544,231.2 553,231.7 568,231 607,232.6 622,231.9 634,229.9 643,227ZM532,376.9 529.7,378 528.8,381 532,382.6 534.4,381 534.5,378ZM391.1,330 394,328.1 397.4,330 394,333.1ZM212.8,477 220,475.2 235,475 241,477.3 244.5,480 249.5,486 251.7,492 250.6,504 251.2,510 257.7,525 262.9,546 268,556.4 275.8,567 199.1,567 203.1,558 214.1,543 216.6,537 217.9,531 218,522 216.5,516 213.7,510 206.2,498 204.3,492 204.8,486 206.2,483 208.5,480Z"/>
<path fill-rule="evenodd" fill="#930000" d="M660.3,228 664,227.1 667,227.3 676,229.3 676,390.6 673,393 667,400.8 656.6,417 653,426 647.7,444 637,462.1 635.2,468 634.9,474 635.7,480 638.4,489 655.3,525 660.8,546 666.9,561 668.4,567 472.2,567 473.6,555 472.7,549 471.4,546 469,543 466,540.8 463,539.5 457,538.5 450.1,540 441.3,546 422.2,567 404.7,567 401,555 401.3,549 403.1,543 407.1,534 411,528 416.5,522 426.8,513 431.2,507 433,501 432.4,489 433,485.5 436,479.6 447.5,465 452,456 462,426 464,417 466,400.7 469,392.9 472,389.4 478,386.5 481,386.6 490,388.9 493,388.7 496,387 500.3,381 503.4,372 503.4,366 502.5,363 499,358.4 496,356.8 481,352.7 475,347.1 463,324.3 455.1,315 454,312 454.6,309 456.6,306 468.7,294 472,293 484,305.8 487,307.7 493,308.3 499,305.2 504.4,300 506.3,297 516.1,267 520,259.5 529,249.2 544,239 559,235.7 571,234.1 613,235.3 646,234 652,232.7ZM511,479.8 507,483 507.1,486 510.5,489 514,489.1 517.4,486 517.3,483 514,480ZM532,371.6 526.2,375 523.8,378 523.2,381 523.7,384 526,386.8 529,388.4 532,388.4 535,386.9 538.2,384 540.1,381 540.5,378 539.4,375 535,371.6ZM544,359 542.7,360 544,361.9 547.1,360ZM223.8,480 232,480.2 237.3,483 239.5,486 241.3,492 241.5,504 242.9,513 252.3,543 259.5,561 261.2,567 205.2,567 207.1,561 218.9,549 220.8,546 223,540 224.1,531 223.5,522 220.5,513 212,498 211,492 213,486 215.8,483 220,480.8Z"/>
<path fill-rule="evenodd" fill="#860000" d="M564.9,240 574,238.3 592,238 619.5,240 628,243 626.6,246 619,250.8 607.4,255 604,257.3 600.8,261 597.9,267 597.9,273 600.1,279 602,282 607,286.3 616,289.2 625.4,288 634,284.9 639.3,282 651.4,267 667,255.8 670,255.3 676,256.6 676,319 669.7,321 667,323.2 665.2,327 665.2,333 666.9,348 664.9,360 637.4,432 623.7,450 620.7,456 619.3,462 619.3,468 621.2,477 625.7,489 636.9,513 640,525 639.2,531 635.7,534 631,536.3 627.1,540 625.5,543 625.2,549 628,554.3 631,556.7 634,557.7 640,557.1 646,554 649,554.9 649.9,561 648.4,567 503,567 501.1,558 501.1,552 502.8,540 503.4,525 505.1,519 506.7,516 511,511.9 517,509.1 523,507.6 538,505.9 544,503.9 550,498.8 553.2,492 554.5,483 555,462 554.3,444 552.7,438 546.7,423 536.1,408 534.7,402 535.2,399 537.6,393 539.7,390 547,384 556,374.2 562.5,369 567.9,363 570.8,357 573.3,345 580.1,327 580,324 577,317.4 571,310.6 564.4,306 564.4,300 562.1,291 559,288.9 557,294 553,300 552.7,309 551.5,312 547,317.5 541,322.5 535,325.6 526,328.6 520,329.4 514,328.2 502.7,324 500.5,321 503.9,312 510.4,300 515.2,282 520.5,267 523.5,261 529,255.7 532,254.1 544,251.5 557.1,243ZM479.8,324 481,323.1 484,322.9 488.6,324 493.1,327 491.3,333 487,337.3 484,337.8 481,336.5 478.7,333 478.1,327ZM477,408 481,408 487,410.2 493,413.9 495.7,417 499,425.9 502.2,432 502.9,438 502,443.3 499,447.4 496,448.8 493,448.9 484,445.8 481,446.3 478,448.2 467.2,459 466.4,462 465.9,474 464.3,477 463,478.1 460,478.7 457,478.3 454.6,477 454,475.6 454.5,471 457,466.5 463.8,459 464.8,456 464,447 469,423.1 472,412.8 475,408.6Z"/>
</g>
<rect x="283.1" y="78" width="12" height="18.6" fill="#c8f020"/>
<g clip-path="url(#sea)" fill="none" stroke="#000" stroke-width="1" shape-rendering="crispEdges">
<path d="M356.7,57.5C357.6,57.7 360.1,58.6 362.3,58.4C364.5,58.3 368.6,56.9 369.8,56.6"/>
<path d="M383.9,55.3C383.3,56.6 382,60.3 380.1,63.1C378.3,66 375.8,69.6 372.6,72.5C369.5,75.5 365.1,78.5 361.4,81C357.6,83.5 353.9,85.4 350.1,87.5C346.4,89.7 342,92.9 338.8,94.1C335.7,95.4 333.5,95.7 331.3,95.1C329.1,94.4 327,92.2 325.7,90.4C324.5,88.5 324,85.8 323.8,83.8C323.7,81.8 324.6,79.1 324.8,78.2"/>
<path d="M398,55.3C396.9,57.2 394.4,63.1 391.4,66.9C388.4,70.7 384.5,74.2 380.1,78.2C375.8,82.1 370.1,87.1 365.1,90.4C360.1,93.6 354.5,95.2 350.1,97.9C345.7,100.5 342.3,103 338.8,106.3C335.4,109.6 332.3,114.6 329.5,117.6C326.6,120.6 323.2,123.1 321.9,124.2"/>
<path d="M441.3,55.3C440,55.9 436.9,57.1 433.8,59.4C430.7,61.6 426.3,65 422.5,68.8C418.8,72.5 414.2,78.8 411.3,81.9C408.3,85 406.9,85.3 404.8,87.2C402.8,89.1 402.4,90.9 398.9,93.2C395.4,95.4 388.9,98.7 383.9,100.7C378.9,102.7 373.6,103.8 368.9,105.4C364.2,106.9 359.8,107.7 355.7,110.1C351.7,112.4 347.9,116 344.5,119.5C341,122.9 337.9,126.7 335.1,130.7C332.3,134.8 329.8,139.5 327.6,143.9C325.4,148.2 323.5,154.3 321.9,157C320.4,159.7 319.6,158.8 318.2,159.8C316.9,160.8 315.2,161.9 313.9,162.8C312.6,163.7 311.2,164.2 310.5,165.1C309.7,165.9 309.5,167.5 309.3,167.9"/>
<path d="M469.5,55.6C466.6,57.2 458.2,61.6 452.6,65C446.9,68.5 441,71.7 435.7,76.3C430.3,80.8 425,87.5 420.6,92.2C416.3,96.9 412,101.8 409.4,104.4C406.8,107.1 406.6,106.7 404.9,108C403.2,109.2 402.4,110.5 398.9,111.9C395.4,113.4 389.2,115.5 383.9,116.6C378.6,117.7 372,117.7 367,118.5C362,119.3 357.6,119.6 353.9,121.3C350.1,123.1 347.3,125.7 344.5,128.8C341.7,132 339.2,136 337,140.1C334.8,144.2 332.9,149.9 331.3,153.2C329.8,156.6 329.1,157.7 327.7,159.9C326.3,162.2 324.5,164.3 322.9,166.8C321.4,169.3 319.7,172.1 318.4,174.7C317.1,177.4 315.9,180 315,182.6C314.2,185.3 313.8,187.9 313.3,190.6C312.8,193.2 312.5,196 312.2,198.5C311.9,200.9 311.6,202.8 311.6,205.3C311.6,207.7 312.1,211.6 312.2,213.2C312.3,214.8 312.2,213.3 312.2,214.9C312.1,216.4 312.2,220.2 311.9,222.5C311.5,224.8 310.7,226.7 310,228.8C309.3,230.8 308.8,233.1 307.5,235C306.2,236.9 304.6,238.5 302.5,240C300.4,241.5 297.9,242.5 295,243.8C292.1,245 288.3,246 285,247.5C281.7,249 278.3,250.7 275,252.5C271.7,254.3 268.1,256.2 265,258.1C261.9,260 259.2,262 256.2,263.8C253.3,265.5 250.2,267.5 247.5,268.8C244.8,270 242.3,270.7 239.9,271.4C237.4,272.1 236,272.6 232.7,273C229.4,273.3 223.7,273.6 219.9,273.7C216.1,273.8 214.3,273.8 210.1,273.7C206,273.6 198.6,272.7 195.1,273C191.5,273.2 191.6,273.4 189,275.2C186.5,277.1 181.8,281.8 180,284C178.1,286.3 179.7,286.7 178.2,288.8C176.6,290.8 173.2,294.4 170.7,296.3C168.2,298.2 164.4,299.4 163.2,300"/>
<path d="M248.8,283.8C250,283.1 253.8,281.5 256.2,280C258.8,278.5 262,276.6 263.8,275C265.5,273.4 265.8,272.3 266.9,270.6C267.9,269 268.2,266.8 270,265C271.8,263.2 275,261.6 277.5,260C280,258.4 282.9,257.1 285,255.6C287.1,254.2 287.5,252.7 290,251.2C292.5,249.8 297.1,248.2 300,246.9C302.9,245.5 305.4,244.5 307.5,243.1C309.6,241.8 311.5,240.3 312.5,238.8C313.5,237.2 312.9,235.4 313.8,233.8C314.6,232.1 316.1,230.4 317.5,228.8C318.9,227.1 320.8,225.4 321.9,223.8C322.9,222.1 323.3,220.2 323.8,218.8C324.2,217.3 323.9,216.5 324.9,214.8C325.9,213.2 327.8,210.7 329.7,208.7C331.7,206.7 334.4,204.9 336.5,203C338.6,201.1 340.8,198.3 342.2,197.4C343.6,196.4 342.9,198.1 344.9,197.2C346.8,196.3 349.9,195.1 353.9,191.9C357.9,188.7 365.6,182.5 368.9,177.8C372.2,173.1 372.6,166.2 373.6,163.8C374.6,161.3 374.5,163.3 374.8,163C375.1,162.6 374.6,162.3 375.4,161.7C376.3,161.1 378.4,159.4 380.1,159.3C381.9,159.1 384.7,160.2 385.8,160.8C386.9,161.4 385.7,161.8 386.6,162.9C387.5,164 389.8,165.2 391.4,167.5C393,169.8 395.5,173.5 396.1,176.9C396.7,180.3 395.6,184.7 395.2,188.2C394.7,191.6 392.7,194.9 393.3,197.5C393.9,200.2 397,202.7 398.9,204.1C400.9,205.5 403.6,205.4 405.1,205.9C406.5,206.3 405.8,205.8 407.5,206.9C409.2,208 413.5,210.7 415,212.6C416.6,214.4 417.2,216.2 416.9,218.2C416.6,220.2 414.7,223.4 413.1,224.8C411.6,226.2 408.4,226.3 407.5,226.6"/>
<path d="M577.5,56C575.4,56.7 568.8,59.3 564.4,60.3C560,61.4 554.5,61.6 551.3,62.2C548,62.8 547.7,63.2 545,63.8C542.3,64.4 539.3,64.5 535.2,66C531,67.4 523.9,70.2 520.1,72.5C516.4,74.9 515.4,78.2 512.6,80C509.8,81.9 507.3,83 503.2,83.8C499.2,84.6 493.5,84.3 488.2,84.7C482.9,85.2 476.7,85.7 471.3,86.6C466,87.5 461.3,88.3 456.3,90.4C451.3,92.4 446,95.5 441.3,98.8C436.6,102.1 432.2,106.3 428.2,110.1C424.1,113.8 419.9,118 416.9,121.3C413.9,124.6 410.8,127.3 410.3,129.8C409.9,132.3 412,134.3 414.1,136.4C416.1,138.4 420.8,139.8 422.5,142C424.2,144.2 424.7,146.7 424.4,149.5C424.1,152.3 421.9,156.6 420.6,158.9C419.4,161.1 418.4,161.6 416.8,163C415.2,164.5 413,165.4 411.3,167.5C409.6,169.7 406.6,173.1 406.6,176C406.6,178.8 408.6,181.1 411.3,184.4C413.9,187.7 418.8,192.4 422.5,195.7C426.3,199 429.7,202.1 433.8,204.1C437.9,206.1 443.2,206.6 446.9,207.9C450.7,209.1 454.1,210.5 456.3,211.6C458.5,212.7 460.4,213.5 460.1,214.4C459.8,215.4 457.6,216.2 454.4,217.3C451.3,218.4 445.7,219.6 441.3,221C436.9,222.4 431.4,224.5 428.2,225.7C424.9,227 422.7,228 421.6,228.5"/>
<path d="M442.2,166.6C442.1,165.9 440.8,165.1 441.3,162.8C441.7,160.6 443.3,156.1 445.1,153.2C446.8,150.4 450.1,148.6 451.6,145.7C453.2,142.9 454.8,139.2 454.4,136.4C454.1,133.5 450.7,131.3 449.7,128.8C448.8,126.3 448,124 448.8,121.3C449.6,118.7 451.9,115 454.4,112.9C456.9,110.8 460.9,109 463.8,108.6C466.8,108.1 470.4,108.3 472.3,110.1C474.2,111.9 474,116 475.1,119.5C476.2,122.9 477.7,127 478.8,130.7C479.9,134.5 481.2,138.2 481.7,142C482.1,145.7 482.8,150.1 481.7,153.2C480.6,156.4 476.5,159.1 475.1,160.8C473.7,162.4 473.7,162.4 473.4,162.9C473.1,163.4 474.8,162.8 473.2,163.8C471.6,164.7 467.1,167.2 463.8,168.4C460.5,169.7 455.2,170.8 453.5,171.3"/>
<path d="M476,212.6C474.9,212.1 471.2,211 469.5,209.7C467.7,208.5 465.4,206.8 465.7,205.1C466,203.3 469.8,201.9 471.3,199.4C472.9,196.9 473.8,193.2 475.1,190C476.3,186.9 477.4,184.1 478.8,180.6C480.3,177.2 482.4,172.3 483.5,169.4C484.7,166.5 485.8,165.8 485.9,163.1C486.1,160.4 484.6,156.8 484.5,153.2C484.4,149.7 484.2,146.1 485.4,142C486.7,137.9 489.3,133.2 492,128.8C494.6,124.5 497.9,119.8 501.4,115.7C504.8,111.6 508.9,107.6 512.6,104.4C516.4,101.3 520.1,99.1 523.9,96.9C527.7,94.7 532.3,93.6 535.2,91.3C538,89 539.1,84.7 540.8,82.9C542.5,81 543.9,80.7 545.2,79.9C546.5,79.2 547.9,78.5 548.4,78.2"/>
<path d="M523.9,128.8C523.6,127.9 521.9,125.2 522,123.2C522.2,121.2 523.3,118.5 524.8,116.6C526.4,114.8 529.4,112.8 531.4,112.3C533.4,111.9 535.8,112.3 537,113.8C538.3,115.3 538.6,118.2 538.9,121.3C539.2,124.5 538.3,129.5 538.9,132.6C539.5,135.7 541.7,138.8 542.7,140.1C543.7,141.4 544.1,140.3 544.9,140.6C545.7,140.8 545.5,142 547.5,141.6C549.5,141.2 553.5,138.5 556.9,138.2C560.3,137.9 564.4,139.1 568.2,139.7C571.9,140.4 575.4,140.7 579.4,142C583.5,143.3 588.2,145.9 592.6,147.6C596.9,149.3 602.6,150.4 605.7,152.3C608.8,154.2 610.1,157.1 611.3,158.9C612.6,160.7 612.5,162 613.2,163.1C613.8,164.2 614.5,164.3 615.1,165.6C615.7,167 616.9,168.4 617,171.3C617.1,174.1 615.9,178.5 615.7,182.5C615.4,186.6 616.2,192.2 615.7,195.7C615.1,199.1 613.9,201.5 612.3,203.2C610.6,204.9 606.8,205.5 605.7,206"/>
<path d="M504.2,129.8C503.7,131.2 501.7,135.3 501.4,138.2C501.1,141.2 501.1,144.8 502.3,147.6C503.6,150.4 506.8,152.6 508.9,155.1C510.9,157.6 513.6,161.3 514.5,162.6C515.4,163.9 514,162.5 514.3,163C514.6,163.5 515.1,164.9 516.4,165.6C517.7,166.4 520.6,167.8 522,167.5C523.4,167.2 524.4,164.5 524.8,163.8C525.3,163 524.1,163.9 524.9,162.9C525.7,162 527.2,158.5 529.5,157.9C531.9,157.4 536.3,159.6 538.9,159.8C541.5,160 543.9,159.4 545,159.3"/>
<path d="M562.9,80C565.3,80.7 572.3,82.5 577.5,83.8C582.8,85 592.6,86.1 594.4,87.5C596.3,89 591.3,90.8 588.8,92.2C586.3,93.6 582.1,93.8 579.4,96C576.8,98.2 574.7,102.1 572.9,105.4C571,108.7 568.6,112.4 568.2,115.7C567.7,119 568.5,122.4 570,125.1C571.6,127.7 574.7,130.1 577.5,131.7C580.4,133.2 583.2,134.5 586.9,134.5C590.7,134.5 595.4,132.8 600.1,131.7C604.8,130.6 610.4,129.2 615.1,127.9C619.8,126.7 624.5,125.4 628.2,124.2C632,122.9 634.2,121.2 637.6,120.4C641.1,119.6 645.1,118.7 648.9,119.5C652.6,120.2 656.7,123.1 660.1,125.1C663.6,127.1 667.2,130.3 669.5,131.7C671.9,133.1 673.4,133.2 674.2,133.5"/>
<path d="M594.4,110.1C594.4,108.7 597.9,105.1 600.1,103.5C602.3,101.9 604.8,100.6 607.6,100.3C610.4,100 614.6,100.6 617,101.6C619.3,102.6 621.3,104.8 621.7,106.3C622,107.9 620.9,109.8 618.8,111C616.8,112.3 612.6,113.7 609.5,113.8C606.3,114 602.6,112.6 600.1,111.9C597.6,111.3 594.4,111.5 594.4,110.1"/>
<path d="M613.2,64.1C613.5,62.8 617.3,62.7 620.7,63.1C624.2,63.6 629.8,65.3 633.9,66.9C637.9,68.5 642.2,70 645.1,72.5C648.1,75 650.9,79.6 651.7,81.9C652.5,84.3 651.5,86.6 649.8,86.6C648.1,86.6 644.7,83.8 641.4,81.9C638.1,80 633.9,77.2 630.1,75.3C626.4,73.5 621.7,72.5 618.8,70.6C616,68.8 612.9,65.3 613.2,64.1"/>
<path d="M645.1,56C646.4,56.9 649.8,59.4 652.6,61.3C655.4,63.1 659.2,66.3 662,66.9C664.8,67.5 667.5,66 669.5,65C671.6,64.1 673.4,61.9 674.2,61.3"/>
<path d="M674.2,138.2C672.5,137.6 667.5,136 663.9,134.5C660.3,132.9 656.4,130.1 652.6,128.8C648.9,127.6 644.3,126.8 641.4,127C638.4,127.1 635.4,128.1 634.8,129.8C634.2,131.5 638.1,134.6 637.6,137.3C637.1,140 634.5,143.5 632,145.7C629.5,147.9 624.6,148.9 622.6,150.4C620.6,152 620.2,153 619.8,155.1C619.4,157.2 620.1,160.6 620.1,163C620.1,165.4 618.9,166.9 619.8,169.4C620.7,171.9 623.5,175.2 625.4,177.8C627.3,180.5 630.1,182.5 631,185.3C632,188.2 631.8,191.8 631,194.7C630.3,197.7 628.1,200.8 626.4,203.2C624.6,205.6 621.7,208.2 620.7,209.2"/>
<path d="M674.2,143.9C672.8,143.5 668.1,141.8 665.8,141.6C663.4,141.5 660.5,141.3 660.1,142.9C659.8,144.5 662,148.7 663.9,151.4C665.8,154 669.7,157.3 671.4,158.9C673.1,160.4 673.8,160.4 674.2,160.8"/>
<path d="M289,191.7C289.6,192.6 292.1,195.1 292.9,197.4C293.8,199.6 293.9,202.8 294.1,205.3C294.2,207.7 294.3,210.5 294.1,212.1C293.9,213.7 293.3,213.8 292.9,214.9C292.5,216 292.6,217.3 291.9,218.8C291.2,220.2 290.1,222.1 288.8,223.8C287.4,225.4 285.4,227.1 283.8,228.8C282.1,230.4 280,232.2 278.8,233.8C277.5,235.3 277.9,236.7 276.2,238.1C274.6,239.6 271.5,241.1 268.8,242.5C266,243.9 263.1,245.1 260,246.2C256.9,247.4 253.4,248.6 250,249.4C246.6,250.1 242.7,250.4 239.9,250.7C237,251 236.1,251.1 232.7,251.1C229.2,251.2 223.7,251.3 219.1,251.1C214.6,251 208.9,251 205.6,250.4C202.3,249.8 200.6,247.9 199.6,247.4"/>
<path d="M290.1,181.5C290.3,182.6 290.4,186.2 291.2,188.3C292.1,190.4 294.2,191.9 295.2,194C296.2,196 296.8,198.3 297.5,200.8C298.1,203.2 298.6,206.4 299.2,208.7C299.7,210.9 300.6,213.3 300.9,214.3C301.1,215.4 300.8,213.6 300.7,214.9C300.6,216.3 300.4,220.2 300,222.5C299.6,224.8 299,226.9 298.1,228.8C297.3,230.6 296.4,232.2 295,233.8C293.6,235.3 292.1,236.9 290,238.1C287.9,239.4 285.4,239.8 282.5,241.2C279.6,242.7 275.8,245.2 272.5,246.9C269.2,248.5 266,249.9 262.5,251.2C259,252.6 255,254.2 251.2,255C247.5,255.8 243,255.9 239.9,256C236.8,256.2 236.1,255.6 232.7,255.7C229.2,255.7 221.4,256.3 219.1,256.4"/>
<path d="M300.9,181.5C300.9,182.6 301,185.9 301.4,188.3C301.8,190.8 302.7,193.4 303.1,196.2C303.5,199.1 303.2,202.6 303.7,205.3C304.2,207.9 305.5,210.5 305.9,212.1C306.4,213.7 306.5,213.5 306.5,214.8C306.6,216.1 306.4,218.1 306.2,220C306.1,221.9 306.2,224.2 305.6,226.2C305,228.3 303.6,230.6 302.5,232.5C301.4,234.4 300.4,236 298.8,237.5C297.1,239 295,240.1 292.5,241.2C290,242.4 286.7,243 283.8,244.4C280.8,245.7 278.3,247.6 275,249.4C271.7,251.1 267.5,253.3 263.8,255C260,256.7 256.5,258.5 252.5,259.4C248.5,260.3 243.2,260.3 239.9,260.3C236.6,260.3 236.4,258.9 232.7,259.4C229,259.9 224.2,261.9 217.6,263.2C211.1,264.4 198.6,265.7 193.6,266.9C188.5,268.2 189.8,269.3 187.5,270.7C185.3,272.1 181.3,274.5 180,275.2"/>
<path d="M246.9,308.2C245.6,309.4 239,315.1 239.1,315C239.2,314.9 245.5,310 247.6,307.5C249.7,305 250.6,302.6 252,300C253.4,297.4 254.4,294.3 256.1,292C257.9,289.7 260,288 262.5,286.2C265,284.5 268.8,282.9 271.2,281.2C273.8,279.6 276,277.9 277.5,276.2C279,274.6 279.4,273.1 280,271.2C280.6,269.4 280,267.1 281.2,265C282.5,262.9 285.2,260.6 287.5,258.8C289.8,256.9 292.5,255.3 295,253.8C297.5,252.2 300,250.6 302.5,249.4C305,248.1 308.3,247.6 310,246.2C311.7,244.9 311.2,242.9 312.5,241.2C313.8,239.6 315.4,237.9 317.5,236.2C319.6,234.6 322.7,232.7 325,231.2C327.3,229.8 329.4,228.8 331.2,227.5C333.1,226.2 335.2,225.2 336.2,223.8C337.3,222.3 337.4,220.2 337.5,218.8C337.6,217.3 337.1,215.8 337.1,214.9C337.1,214 336.9,214.3 337.6,213.2C338.4,212.1 340.4,208.5 341.6,208.1C342.8,207.7 343.7,209.6 344.8,210.8C345.9,212 346.4,213.2 348.2,215.4C350,217.5 354.5,222.4 355.7,223.8"/>
<path d="M369.8,226.6C371.5,226.6 377,227 380.1,226.6C383.3,226.3 386.9,223.7 388.6,224.8C390.3,225.9 390.8,230.9 390.5,233.2C390.2,235.6 386.9,237.1 386.7,238.8C386.6,240.6 387.5,242.9 389.5,243.5C391.6,244.2 396.3,243.1 398.9,242.6C401.5,242.1 403,241.3 405,240.7C407.1,240.1 408.5,239.9 411.3,238.8C414,237.7 418.5,235.2 421.6,234.2C424.7,233.1 426.8,233.1 430,232.3C433.3,231.5 436.9,230.1 441.3,229.5C445.7,228.8 451.3,228.8 456.3,228.5C461.3,228.2 467,228.2 471.3,227.6C475.7,227 478.8,225.9 482.6,224.8C486.4,223.7 491,222.4 493.9,221C496.7,219.6 498.9,217.7 499.5,216.3C500.1,214.9 499.2,213 497.6,212.6C496.1,212.1 491.4,213.3 490.1,213.5"/>
<path d="M358.6,261.4C359.5,262.2 362.9,264.2 364.2,266.1C365.5,268 365.9,271.2 366.6,272.8C367.2,274.4 366.6,274.4 367.9,275.6C369.3,276.9 371.9,279.2 374.5,280.3C377.2,281.4 380.8,282.5 383.9,282.2C387,281.9 391.1,280 393.3,278.4C395.5,276.9 396.3,276 397.3,272.8C398.2,269.6 398,263.6 398.9,259.5C399.8,255.4 401.6,250.3 402.7,248.2C403.7,246.2 404.6,247.3 405.1,247.3C405.6,247.3 403.7,249 405.6,248.2C407.6,247.4 413.5,244.2 416.9,242.6C420.3,241 422.8,240.4 426.3,238.8C429.7,237.3 434.4,233.8 437.5,233.2C440.7,232.6 442.6,234 445.1,235.1C447.6,236.2 449.4,239 452.6,239.8C455.7,240.6 460.4,239.8 463.8,239.8C467.3,239.8 470.7,239.2 473.2,239.8C475.7,240.4 477,242.1 478.8,243.5C480.7,244.9 482.6,246.5 484.5,248.2C486.4,250 489.2,252.9 490.1,253.9"/>
<path d="M450.7,281.3C449.7,280.3 446.3,277 445.1,275.6C443.8,274.3 443.8,274.2 443.1,273.1C442.5,272 442.2,271.2 441.3,268.9C440.4,266.6 438.8,262.6 437.5,259.5C436.3,256.4 433.8,252.9 433.8,250.1C433.8,247.3 437.7,244.3 437.5,242.6C437.4,240.9 435.4,239.9 432.9,239.8C430.3,239.6 426.1,240.3 422.5,241.7C418.9,243.1 414.1,245.6 411.3,248.2C408.4,250.9 406.7,255.1 405.6,257.6C404.6,260.1 405.2,261.9 405,263.2C404.8,264.4 404.4,263.7 404.5,265.1C404.7,266.6 405.6,270.4 406.1,271.8C406.6,273.2 406.7,272.5 407.5,273.8C408.4,275 411.3,277.5 411.3,279.4C411.3,281.3 408.5,283.6 407.5,285C406.5,286.4 406.6,286.8 405.1,287.8C403.7,288.7 401.5,289.5 398.9,290.6C396.3,291.8 391.4,292.4 389.5,294.4C387.7,296.4 389.2,300 387.7,302.9C386.1,305.7 383.3,308.3 380.1,311.3C377,314.3 371.7,317.9 368.9,320.7C366.1,323.5 364.2,325.4 363.2,328.2C362.2,331 362.6,334.9 362.9,337.6C363.2,340.2 363.7,342.3 365.1,344.2C366.6,346 370.6,348.1 371.7,348.8"/>
<path d="M216.1,230.1C217.1,231.7 220.4,238.1 222.2,239.8C223.9,241.6 224.9,242.2 226.7,240.6C228.4,239 231.7,231.8 232.7,230.1"/>
<path d="M205.6,240.6C207.1,241 211.6,242.1 214.6,242.9C217.6,243.6 220.1,245.1 223.7,245.1C227.2,245.1 233.1,244.9 235.7,242.9C238.3,240.8 238.8,234.7 239.5,233.1C240.2,231.4 239.8,232.8 239.9,232.8"/>
<path d="M205.6,245.1C207.9,245.5 214.9,247 219.1,247.4C223.4,247.7 227.7,247.6 231.2,247.4C234.6,247.1 237.4,246.4 239.9,246C242.4,245.6 244,245.5 246.2,245C248.5,244.5 252.5,244.2 253.1,243.1C253.8,242.1 250.9,240.3 250,238.8C249.1,237.2 246.9,235 247.5,233.8C248.1,232.5 251.9,232.5 253.8,231.2C255.6,230 257.7,227.5 258.8,226.2C259.8,225 259.8,224.2 260,223.8"/>
<path d="M239.9,282.6C237.4,282.7 230.1,283.7 225.2,283.5C220.2,283.3 215.3,282 210.1,281.2C205,280.5 198.1,278.7 194.3,279C190.5,279.2 189.9,280.3 187.5,282.8C185.1,285.2 181.8,290.8 179.9,293.8C178.1,296.9 178.5,299 176.3,301C174.1,302.9 170.4,304.1 166.9,305.7C163.5,307.2 157.5,309.6 155.7,310.4"/>
<path d="M228.2,305.3C227.7,304.8 226.7,303.8 225.2,302.3C223.7,300.8 221.7,297.8 219.1,296.3C216.6,294.8 213.1,293.9 210.1,293.3C207.1,292.7 204.6,291.8 201.1,292.5C197.6,293.3 192.5,295.9 189,297.8C185.5,299.7 181.8,302.6 180,303.7C178.2,304.9 180.1,303.3 178.2,304.7C176.3,306.1 171.9,309.9 168.8,312.2C165.7,314.6 161.9,316.5 159.4,318.8C156.9,321.2 156,325.4 153.8,326.3C151.6,327.3 147.5,324.8 146.3,324.4"/>
<path d="M499.5,255.7C500.4,255.1 503.4,254.5 505.1,252C506.8,249.5 508.9,244.2 509.8,240.7C510.8,237.3 510,234.8 510.8,231.3C511.5,227.9 513.3,223.5 514.5,220.1C515.8,216.6 518,213.5 518.3,210.7C518.6,207.9 518.6,205.5 516.4,203.2C514.2,200.8 508.3,198.3 505.1,196.6C502,194.9 499.2,193.9 497.6,192.9C496.1,191.8 495.1,191 495.7,190C496.4,189.1 498.6,188 501.4,187.2C504.2,186.4 508.3,186 512.6,185.3C517,184.7 523,184.2 527.7,183.5C532.3,182.7 537.9,181.3 540.8,180.6C543.7,180 543.7,180 545.2,179.7C546.6,179.4 547.1,179.6 549.4,178.8C551.7,178 556.4,176.6 558.8,175C561.1,173.5 563.2,171.1 563.5,169.4C563.8,167.7 562,165.7 560.6,164.7C559.3,163.6 556.1,163.3 555.2,163.1"/>
<path d="M463.8,282.2C464.8,281.6 467.3,278.9 469.5,278.4C471.6,278 475.1,278.1 477,279.4C478.8,280.6 478.8,283.9 480.7,286C482.6,288 485.7,291.1 488.2,291.6C490.7,292.1 494,290.8 495.7,288.8C497.5,286.7 498.1,282 498.6,279.4C499,276.8 498.2,275.4 498.4,273C498.5,270.6 498.4,267.7 499.5,265.1C500.6,262.6 502.8,260.1 505.1,257.6C507.5,255.1 511.7,252.9 513.6,250.1C515.4,247.3 515.3,244.2 516.4,240.7C517.5,237.3 518.9,233.2 520.1,229.5C521.4,225.7 522.3,221.6 523.9,218.2C525.5,214.8 528.3,211.8 529.5,208.8C530.8,205.8 529.8,202.4 531.4,200.4C533,198.3 536.6,197.7 538.9,196.6C541.2,195.5 543.3,194.7 545.1,194C546.8,193.2 547.1,192.9 549.4,191.9C551.7,190.9 555.7,189.6 558.8,188.2C561.8,186.7 566,182.1 567.7,183C569.4,183.9 569.3,190.4 569.1,193.8C568.9,197.2 566.9,200.4 566.3,203.2C565.7,206 565,208.5 565.3,210.7C565.7,212.9 566.1,214.9 568.2,216.3C570.2,217.7 574.4,218.2 577.5,219.1C580.7,220.1 583.2,221.3 586.9,221.9C590.7,222.6 596,222.7 600.1,222.9C604.1,223 607.6,223.4 611.3,222.9C615.1,222.4 618.8,221.8 622.6,220.1C626.4,218.4 630.4,215.7 633.9,212.6C637.3,209.4 640.4,205.1 643.2,201.3C646.1,197.5 648.6,193.2 650.8,190C652.9,186.9 654.5,184.2 656.4,182.5C658.3,180.9 660,180.3 662,180.3C664.1,180.3 667.2,180.9 668.6,182.5C670,184.2 670.3,187.5 670.5,190C670.6,192.5 668.9,195.4 669.5,197.5C670.2,199.7 673.4,202.2 674.2,203.2"/>
<path d="M502.3,304.7C503.2,303.9 506.8,302.1 507.9,300C509,298 508.1,295.7 508.9,292.5C509.7,289.4 511.4,284.5 512.6,281.3C513.9,278 515.6,275.2 516.4,273.1C517.2,271.1 516.7,271.2 517.3,268.9C518,266.6 518.4,262.3 520.1,259.5C521.9,256.7 524.5,253.9 527.7,252C530.8,250.1 536,249.2 538.9,248.2C541.8,247.2 543.3,246.9 545.1,246C546.8,245 546.8,243.9 549.4,242.6C552,241.3 557.2,239.1 560.6,237.9C564.1,236.7 565.7,235.9 570,235.5C574.4,235 581,235 586.9,235.1C592.9,235.2 599.4,235.8 605.7,236C612,236.3 618.8,236.3 624.5,236.6C630.1,236.9 635.6,237.2 639.5,237.9C643.4,238.6 646.4,239.6 647.9,240.7C649.5,241.8 649.7,243.1 648.9,244.5C648.1,245.9 646.2,247.9 643.2,249.2C640.3,250.5 633.1,251.8 631,252.4"/>
<path d="M587.9,195.7C588.3,194.4 589.7,193.5 590.7,193.8C591.6,194.1 592.7,195.8 593.5,197.5C594.3,199.3 595.7,202.9 595.4,204.1C595.1,205.4 592.9,205.5 591.6,205.1C590.4,204.6 588.5,202.9 587.9,201.3C587.2,199.7 587.4,196.9 587.9,195.7"/>
<path d="M607.6,258.6C607.4,259.6 606.5,262.7 606.6,265.1C606.8,267.5 608.2,271.4 608.7,273C609.2,274.6 608.7,273.8 609.5,274.7C610.2,275.6 611.6,278.4 613.2,278.4C614.8,278.4 617.4,275.6 618.8,274.7C620.3,273.8 620.5,273.7 622.1,272.9C623.7,272.1 625.3,271.4 628.2,269.8C631.1,268.2 635.7,265.6 639.5,263.2C643.2,260.9 647.3,258.2 650.8,255.7C654.2,253.2 657.3,250.7 660.1,248.2C663,245.7 665.3,243.2 667.7,240.7C670,238.2 673.1,234.5 674.2,233.2"/>
<path d="M148.2,337.6C149.1,339.1 151.9,346 153.8,347C155.7,347.9 157.9,345.4 159.4,343.2C161,341 161.6,337 163.2,333.8C164.7,330.7 166.6,327.1 168.8,324.4C171,321.8 173.7,319.6 176.3,317.9C179,316.1 182.4,314.6 184.8,314.1C187.1,313.6 189,314.4 190.4,315.1C191.8,315.7 193.4,316.6 193.2,317.9C193.1,319.1 190.1,321.8 189.5,322.6"/>
<path d="M207.3,329.1C209,328.8 214,328 217.6,327.3C221.2,326.5 225.4,325.7 228.9,324.4C232.3,323.2 235.1,321.9 238.3,319.7C241.4,317.6 245.8,313 247.7,311.3C249.5,309.6 248,311 249.6,309.7C251.1,308.5 254.4,305.8 257,303.8C259.6,301.8 262.2,300 265,298C267.8,296 271,294 273.8,292C276.5,290 279,288 281.2,286.2C283.5,284.5 285.6,282.9 287.5,281.2C289.4,279.6 291.2,277.9 292.5,276.2C293.8,274.6 293.8,273.1 295,271.2C296.2,269.4 298.3,266.4 300,265C301.7,263.6 303.1,263.1 305,263.1C306.9,263.1 309.2,264.3 311.2,265C313.3,265.7 315,266.6 317.5,267.5C320,268.4 323.8,270 326.2,270.6C328.8,271.2 331,271.8 332.5,271.2C334,270.7 334.2,269 335,267.5C335.8,266 337.1,263.3 337.5,262.5"/>
<path d="M286.3,374.2C286.9,373.1 288.6,370.1 290,367.6C291.4,365.1 293.9,361.4 294.7,359.2C295.5,357 295.8,356.5 294.7,354.5C293.6,352.4 289.9,350.1 288.2,347C286.4,343.8 286,338.8 284.4,335.7C282.8,332.6 281.3,330.1 278.8,328.2C276.3,326.3 272.5,325.1 269.4,324.4C266.3,323.7 261.7,324.1 260,324C258.2,323.8 261,323.3 258.9,323.5C256.9,323.7 252,324.3 247.7,325.4C243.3,326.5 237.6,328.4 232.6,330.1C227.6,331.8 222.6,334 217.6,335.7C212.6,337.4 207,338.4 202.6,340.4C198.2,342.4 194.8,344.6 191.3,347.9C187.9,351.2 184.8,355.9 181.9,360.1C179.1,364.3 176.6,369.4 174.4,373.2C172.3,377.1 170.6,380.4 168.9,383.1C167.2,385.8 166,386.5 164.1,389.4C162.2,392.3 159.3,397.2 157.5,400.6C155.8,404.1 155,406.8 153.8,410C152.5,413.3 150.7,418.6 150,420.4"/>
<path d="M208.2,375.1C208.5,373.4 211,371.1 213.9,369.5C216.7,367.9 221.4,366.1 225.1,365.7C228.9,365.4 233.1,366.2 236.4,367.6C239.7,369 245.5,372.5 244.8,374.2C244.2,375.9 236.9,376.8 232.6,377.9C228.4,379 222.9,380.4 219.5,380.8C216.1,381.1 213.9,380.8 212,379.8C210.1,378.9 207.9,376.8 208.2,375.1"/>
<path d="M296.6,377.9C298.6,377.6 304.3,376.4 308.8,376.1C313.3,375.8 318.8,375.9 323.8,376.1C328.8,376.2 333.8,376.4 338.8,377C343.8,377.6 349.5,378.9 353.9,379.8C358.2,380.8 363.3,382.1 365.1,382.6C366.9,383.2 364.7,382.8 364.7,383C364.7,383.2 362.5,383.2 365.1,383.8C367.7,384.4 375.1,385.9 380.1,386.6C385.1,387.2 391,387.5 395.2,387.5C399.3,387.6 402.7,387 405,386.9C407.4,386.7 407.4,387.1 409.4,386.6C411.4,386.1 415.7,384.4 416.9,383.8C418.1,383.2 417,384.4 416.4,383C415.8,381.5 414.9,377.7 413.1,375.1C411.3,372.6 407,369.4 405.6,367.6C404.3,365.8 405.7,366 404.9,364.3C404.1,362.6 402.7,359.4 400.8,357.3C398.9,355.2 395.9,352.8 393.3,351.7C390.6,350.5 386.2,350.6 384.8,350.3"/>
<path d="M488.8,273C488.7,273.8 489.1,276.9 488.2,277.5C487.4,278.1 484.6,277.3 483.5,276.6C482.4,275.9 481.9,273.8 481.6,273.3"/>
<path d="M472.3,288.8C472.3,291.3 472,302.1 472.3,303.8C472.6,305.5 473.2,299.9 474.2,299.1C475.1,298.3 477.8,298.4 477.9,299.1C478,299.8 475.6,300.7 474.6,303.3C473.7,306 472.8,311.2 472.3,315.1C471.7,318.9 471.2,322.9 471.3,326.3C471.5,329.8 472,332.7 473.2,335.7C474.5,338.7 476.8,342.4 478.8,344.2C480.9,345.9 483.2,346.2 485.4,346C487.6,345.9 490.1,344.8 492,343.2C493.9,341.6 494.5,338 496.7,336.6C498.9,335.2 502.2,334.5 505.1,334.8C508.1,335.1 511.4,337 514.5,338.5C517.6,340.1 520.5,342.4 523.9,344.2C527.3,345.9 531.7,347.6 535.2,348.8C538.6,350.1 542.7,351.1 544.8,351.8C546.8,352.4 545.8,351.8 547.5,352.6C549.2,353.4 553.5,355.1 555,356.4C556.6,357.6 557.5,358.5 556.9,360.1C556.3,361.7 553.2,364.3 551.3,365.7C549.3,367.2 547.1,367.8 545.1,368.6C543,369.4 541.8,369.7 538.9,370.4C536,371.2 530.8,372.2 527.7,373.2C524.5,374.3 521.8,375.4 520.1,377C518.5,378.6 517.9,381.4 517.6,382.9C517.3,384.3 517.2,384.4 518.3,385.6C519.3,386.9 521.7,388.9 523.9,390.3C526.1,391.7 531.4,392.7 531.4,394.1C531.4,395.5 527,397.4 523.9,398.8C520.8,400.2 516.7,401.3 512.6,402.5C508.6,403.8 501.7,405.7 499.5,406.3"/>
<path d="M674.2,373.2C673.4,373.7 670.9,374.8 669.5,376.1C668.1,377.3 666.6,379.6 665.8,380.8C665,381.9 665.8,380.6 664.8,383C663.9,385.4 662.2,390.5 660.1,395C658.1,399.5 654.8,405.3 652.6,410C650.4,414.7 648.4,418.8 647,423.2C645.6,427.6 646.1,432.4 644.2,436.3C642.3,440.2 638.4,443.2 635.7,446.6C633.1,450.1 629.8,453.7 628.2,457C626.7,460.3 626.4,462.9 626.4,466.4C626.4,469.8 627.6,474.9 628.2,477.6C628.8,480.4 628.7,479.7 629.9,482.8C631.2,486 633.5,491.5 635.7,496.3C638,501 640.9,506.3 643.2,511.3C645.6,516.3 647.8,521.3 649.8,526.3C651.9,531.3 653.7,536.6 655.4,541.3C657.2,546 659,550.8 660.1,554.5C661.2,558.1 661.7,561.8 662,563.3"/>
<path d="M137.8,410C138,411.3 138.3,415.8 138.8,417.5C139.2,419.3 140.3,419.9 140.6,420.4"/>
<path d="M253.3,562.9C252.5,561.5 250.3,558.1 248.6,554.5C246.9,550.9 244.7,546.3 243,541.3C241.2,536.3 239.7,530.1 238.3,524.4C236.9,518.8 235.3,512.6 234.5,507.5C233.7,502.5 233.4,497.7 233.6,494.4C233.7,491.1 235.6,489.7 235.4,487.8C235.3,485.9 235,483.9 232.8,483C230.5,482.2 224.8,482.2 222.1,483C219.4,483.8 218,485.9 216.7,487.8C215.4,489.7 214.6,492.4 214.4,494.4C214.3,496.4 214.6,497.8 215.7,500C216.9,502.2 219.8,505 221.4,507.5C222.9,510 223.9,511.9 225.1,515.1C226.4,518.2 228.1,522.2 228.9,526.3C229.7,530.4 229.8,535.4 229.8,539.5C229.8,543.5 230,547.9 228.9,550.7C227.8,553.5 225.8,554.9 223.2,556.4C220.7,557.8 216.4,558.1 213.9,559.2C211.4,560.3 209.2,562.3 208.2,562.9"/>
<path d="M476,400.6C475.2,400.1 472.6,397 471.3,397.3C470.1,397.6 469.3,399.5 468.5,402.5C467.7,405.6 467.4,411.3 466.6,415.7C465.9,420 465.1,423.8 463.8,428.8C462.6,433.8 460.9,440.4 459.1,445.7C457.4,451 455.8,455.7 453.5,460.7C451.2,465.7 447.5,472 445.1,475.7C442.6,479.5 440.7,480.8 439,483C437.3,485.2 434.7,487.4 434.7,488.8C434.8,490.1 436.4,490.9 439.4,491C442.4,491.2 448.2,490.2 452.6,489.7C456.9,489.2 461.3,488.6 465.7,487.8C470.1,487.1 475.7,485.8 478.8,485C482,484.2 483.2,483.4 484.5,483C485.7,482.5 486.4,483 486.4,482.3C486.4,481.6 486.4,479.3 484.5,478.6C482.6,477.8 477.1,478.4 475.1,477.6C473.1,476.8 472.6,475.1 472.3,473.9C472,472.6 472.4,471 473.2,470.1C474,469.2 476.3,468.5 477,468.2"/>
<path d="M499.5,466.4C501.7,466.5 508.3,466.5 512.6,467.3C517,468.1 522,469.3 525.8,471C529.5,472.8 532.7,475.6 535.2,477.6C537.6,479.6 539.3,481.8 540.4,482.9C541.4,484 541.7,482.8 541.7,484.1C541.8,485.4 541.9,488.9 540.8,490.6C539.7,492.4 538.3,493.3 535.2,494.4C532,495.5 527,496.3 522,497.2C517,498.2 510.4,499.1 505.1,500C499.8,501 495.1,501.9 490.1,502.9C485.1,503.8 480.1,504.6 475.1,505.7C470.1,506.8 464.5,508.2 460.1,509.4C455.7,510.7 452.6,511.6 448.8,513.2C445.1,514.7 441,516.8 437.5,518.8C434.1,520.8 431,523.2 428.2,525.4C425.3,527.6 421.9,530.9 420.6,531.9"/>
<path d="M436.6,535.7C438,535.1 441.8,533 445.1,531.9C448.3,530.9 451.9,529.8 456.3,529.1C460.7,528.5 466.6,528.2 471.3,528.2C476,528.2 481,528.4 484.5,529.1C487.9,529.9 490.6,531.2 492,532.9C493.4,534.6 493.4,536.8 492.9,539.5C492.5,542.1 490.1,546 489.2,548.8C488.2,551.7 487.6,553.9 487.3,556.4C487,558.8 487.3,562.1 487.3,563.3"/>
<path d="M303.2,92.1C303.7,92.8 305.5,94.8 306.2,96.1C306.9,97.4 307.1,98.4 307.2,100.1C307.3,101.8 307,104.4 306.7,106.1C306.4,107.8 305.6,108.5 305.2,110.2C304.8,111.9 304.3,114.4 304.2,116.2C304.1,118 304,119.8 304.7,121.2C305.4,122.6 307.6,124.1 308.2,124.7"/>
<path d="M298.2,93.6C298.4,94.5 299.3,97.2 299.7,99.1C300.1,101 300.5,104.1 300.7,105.1"/>
<path d="M434.7,304.7C435.2,303.2 437.2,303 438.5,303.8C439.7,304.6 441.5,307.2 442.2,309.4C443,311.6 443.6,315.4 443.2,316.9C442.7,318.5 440.7,319.4 439.4,318.8C438.2,318.2 436.4,315.5 435.7,313.2C434.9,310.8 434.3,306.3 434.7,304.7"/>
<path d="M407.5,338.5C408,337.7 409.4,336.2 411.3,337.6C413.1,339 416,343.8 418.8,347C421.6,350.1 427.2,354.5 428.2,356.4C429.1,358.2 426.6,358.8 424.4,357.9C422.2,356.9 417.7,353.3 415,350.7C412.4,348.1 409.7,344.3 408.4,342.3C407.2,340.2 407,339.3 407.5,338.5"/>
<path d="M429.1,360.7 437.5,361"/>
</g>
<g font-size="11" fill="#000">
<rect x="507.8" y="129.5" width="24" height="12.2" fill="#fff"/><text x="509.5" y="140.5" textLength="21.2" lengthAdjust="spacingAndGlyphs">17.5</text>
<rect x="549.5" y="71.1" width="13" height="12.2" fill="#fff"/><text x="551" y="82.1" textLength="10.5" lengthAdjust="spacingAndGlyphs">17</text>
<rect x="288.3" y="168.6" width="24" height="12.2" fill="#fff"/><text x="290" y="179.6" textLength="21.2" lengthAdjust="spacingAndGlyphs">15.5</text>
<rect x="355.8" y="221.5" width="13" height="12.2" fill="#fff"/><text x="357.4" y="232.5" textLength="10.5" lengthAdjust="spacingAndGlyphs">17</text>
<rect x="335.3" y="249.6" width="24" height="12.2" fill="#fff"/><text x="337" y="260.6" textLength="21.2" lengthAdjust="spacingAndGlyphs">17.5</text>
<rect x="205.1" y="249.2" width="13" height="12.2" fill="#fff"/><text x="206.7" y="260.2" textLength="10.5" lengthAdjust="spacingAndGlyphs">14</text>
<rect x="219.4" y="252.3" width="13" height="12.2" fill="#fff"/><text x="221" y="263.3" textLength="10.5" lengthAdjust="spacingAndGlyphs">15</text>
<rect x="193.3" y="259.3" width="24" height="12.2" fill="#fff"/><text x="195" y="270.3" textLength="21.2" lengthAdjust="spacingAndGlyphs">15.5</text>
<rect x="219.9" y="267.3" width="13" height="12.2" fill="#fff"/><text x="221.4" y="278.3" textLength="10.5" lengthAdjust="spacingAndGlyphs">16</text>
<rect x="224.9" y="277.4" width="24" height="12.2" fill="#fff"/><text x="226.6" y="288.4" textLength="21.2" lengthAdjust="spacingAndGlyphs">16.5</text>
<rect x="398.3" y="225.2" width="24" height="12.2" fill="#fff"/><text x="400" y="236.2" textLength="21.2" lengthAdjust="spacingAndGlyphs">16.5</text>
<rect x="439.9" y="168" width="13" height="12.2" fill="#fff"/><text x="441.4" y="179" textLength="10.5" lengthAdjust="spacingAndGlyphs">17</text>
<rect x="476.5" y="209.3" width="13" height="12.2" fill="#fff"/><text x="478" y="220.3" textLength="10.5" lengthAdjust="spacingAndGlyphs">17</text>
<rect x="476.2" y="254.3" width="24" height="12.2" fill="#fff"/><text x="477.9" y="265.3" textLength="21.2" lengthAdjust="spacingAndGlyphs">17.5</text>
<rect x="565.8" y="171.7" width="13" height="12.2" fill="#fff"/><text x="567.3" y="182.7" textLength="10.5" lengthAdjust="spacingAndGlyphs">18</text>
<rect x="596.9" y="204.6" width="24" height="12.2" fill="#fff"/><text x="598.6" y="215.6" textLength="21.2" lengthAdjust="spacingAndGlyphs">17.5</text>
<rect x="607.2" y="246.3" width="24" height="12.2" fill="#fff"/><text x="608.9" y="257.3" textLength="21.2" lengthAdjust="spacingAndGlyphs">18.5</text>
<rect x="225.8" y="305.2" width="13" height="12.2" fill="#fff"/><text x="227.3" y="316.2" textLength="10.5" lengthAdjust="spacingAndGlyphs">17</text>
<rect x="183.1" y="323.6" width="24" height="12.2" fill="#fff"/><text x="184.8" y="334.6" textLength="21.2" lengthAdjust="spacingAndGlyphs">17.5</text>
<rect x="283" y="374.3" width="13" height="12.2" fill="#fff"/><text x="284.5" y="385.3" textLength="10.5" lengthAdjust="spacingAndGlyphs">18</text>
<rect x="371.8" y="344.6" width="13" height="12.2" fill="#fff"/><text x="373.3" y="355.6" textLength="10.5" lengthAdjust="spacingAndGlyphs">18</text>
<rect x="450.6" y="280.2" width="13" height="12.2" fill="#fff"/><text x="452.1" y="291.2" textLength="10.5" lengthAdjust="spacingAndGlyphs">18</text>
<rect x="475.9" y="303.3" width="24" height="12.2" fill="#fff"/><text x="477.6" y="314.3" textLength="21.2" lengthAdjust="spacingAndGlyphs">18.5</text>
<rect x="136.8" y="420.5" width="13" height="12.2" fill="#fff"/><text x="138.3" y="431.5" textLength="10.5" lengthAdjust="spacingAndGlyphs">18</text>
<rect x="475.9" y="402.1" width="24" height="12.2" fill="#fff"/><text x="477.6" y="413.1" textLength="21.2" lengthAdjust="spacingAndGlyphs">18.5</text>
<rect x="475.9" y="458.4" width="24" height="12.2" fill="#fff"/><text x="477.6" y="469.4" textLength="21.2" lengthAdjust="spacingAndGlyphs">18.5</text>
<rect x="412.8" y="534.1" width="24" height="12.2" fill="#fff"/><text x="414.5" y="545.1" textLength="21.2" lengthAdjust="spacingAndGlyphs">18.5</text>
<rect x="308.5" y="122.9" width="13" height="12.2" fill="#fff"/><text x="310.1" y="133.9" textLength="10.5" lengthAdjust="spacingAndGlyphs">15</text>
</g>
<g stroke="#b8b8b8" stroke-width="1" stroke-dasharray="2 4.5" fill="none" shape-rendering="crispEdges">
<path d="M194.5,54.5 V564.0"/><path d="M265.5,54.5 V564.0"/><path d="M336.5,54.5 V564.0"/><path d="M406.5,54.5 V564.0"/><path d="M477.5,54.5 V564.0"/><path d="M548.5,54.5 V564.0"/><path d="M619.5,54.5 V564.0"/><path d="M124.0,530.5 H675.5"/><path d="M124.0,445.5 H675.5"/><path d="M124.0,360.5 H675.5"/><path d="M124.0,275.5 H675.5"/><path d="M124.0,191.5 H675.5"/><path d="M124.0,106.5 H675.5"/>
</g>
<g fill="none" stroke="#000" stroke-width="2.4" stroke-linejoin="round" stroke-linecap="round" clip-path="url(#frame)">
<path d="M125,146.2C126.2,146.7 129.4,148.1 132.5,148.8C135.6,149.4 140.4,149.5 143.8,150C147.1,150.5 149,151.7 152.5,152C156,152.3 162.7,152.5 165,152C167.3,151.5 166.8,149.9 166.2,148.8C165.8,147.6 161.2,147.1 162,145C162.8,142.9 168,136.6 171.2,136.2C174.5,135.9 178.5,141.9 181.2,143C184,144.1 185.6,143.9 187.5,143C189.4,142.1 190,139.5 192.5,137.5C195,135.5 198.8,132.9 202.5,131.2C206.2,129.6 211.7,129 215,127.5C218.3,126 218.8,124.4 222.5,122.5C226.2,120.6 233.8,117 237.5,116.2C241.2,115.5 242.5,118 245,118C247.5,118 250,115.9 252.5,116.2C255,116.6 258.8,119.4 260,120"/>
<path d="M190.4,188.8C189,189.7 184.3,191.7 181.9,194.4C179.6,197.1 176.6,201.6 176.3,204.7C176,207.9 178.5,210.5 180.1,213.2C181.6,215.8 184.8,218.2 185.7,220.7C186.6,223.2 186.6,226.2 185.7,228.2C184.8,230.2 182.3,231.8 180.1,232.9C177.9,234 174.8,233.4 172.6,234.8C170.4,236.2 168.2,238.7 166.9,241.3C165.7,244 164.4,248.8 165.1,250.7C165.7,252.6 168.8,252.9 170.7,252.6C172.6,252.3 175.1,250.4 176.3,248.8C177.6,247.3 176.9,244.5 178.2,243.2C179.4,241.9 181.9,241.1 183.8,241C185.7,240.8 188.2,241.3 189.5,242.3C190.7,243.3 191.8,245.4 191.3,247C190.9,248.5 189.1,250.4 186.6,251.7C184.1,252.9 179.6,253.4 176.3,254.5C173,255.6 168.5,257.6 166.9,258.2"/>
<path d="M190.4,188.8C192.1,189.1 197.7,190.2 200.7,191C203.7,191.8 206.4,192.3 208.2,193.5C210,194.7 212.2,196.6 211.4,198.2C210.6,199.7 205.3,201.3 203.5,202.9C201.8,204.4 201,205.5 200.7,207.5C200.4,209.6 200.4,213.2 201.7,215.1C202.9,216.9 205.9,217.9 208.2,218.8C210.6,219.7 214.6,219.4 215.7,220.7C216.8,221.9 215.7,224.8 214.8,226.3C213.9,227.9 213.9,228.5 210.1,230.1C206.4,231.6 194.9,233.7 192.3,235.7C189.6,237.7 191.2,242.6 194.2,242.3C197.1,242 207.4,235.2 210.1,233.8"/>
<path d="M281,108.5C281.8,107.5 284.5,103.9 286,102.3C287.5,100.7 288.8,100.1 290,99C291.2,97.9 291.4,97.1 293.1,95.5C294.8,93.9 297.5,91.3 300,89.5C302.5,87.7 305.4,86.1 308,84.5C310.6,82.9 312.9,81.4 315.5,80C318.1,78.6 321.2,77.3 323.5,76C325.8,74.7 327.6,73.5 329.5,72.2C331.4,70.9 333.4,69.6 335.2,68.2C336.9,66.8 338.5,65.4 340,64C341.5,62.6 342.5,61.4 344.2,60C345.9,58.6 349.2,56.2 350.2,55.5"/>
<path d="M281,108.5C280.8,108.5 279.5,107.9 279.6,108.7C279.7,109.5 280.8,112 281.6,113.2C282.4,114.5 283.4,116.6 284.6,116.2C285.9,115.8 287.9,111.4 289.1,110.7C290.4,110 291,111.5 292.1,112.2C293.2,112.9 294.5,114.6 295.6,114.7C296.7,114.8 297.7,113 298.7,112.7C299.7,112.5 301.1,112.3 301.7,113.2C302.3,114.1 302.5,117 302.2,118.2C301.9,119.4 300.1,119.9 299.7,120.2"/>
<path d="M281.8,55C281.8,57.5 282,66.5 281.6,70C281.2,73.5 280.1,73.8 279.6,76C279.1,78.2 278.7,80.7 278.6,83C278.5,85.3 278.8,87.8 279.1,90C279.4,92.2 279.9,94.7 280.6,96.1C281.3,97.5 281.7,98.1 283.1,98.6C284.5,99.1 288.1,99 289.1,99.1"/>
<path d="M290,55C290.2,57.5 290.6,66.8 291.1,70C291.6,73.2 292.2,72.8 293.1,74C294,75.2 295.8,76 296.6,77.5C297.4,79 297.4,81.3 297.7,83C298,84.7 298.5,86.8 298.7,87.6"/>
<path d="M316.2,78.5C315.5,77.8 313.5,75.2 312.2,74C310.9,72.8 308.8,72.9 308.6,71.6C308.4,70.3 310.2,67.5 311.1,66.1C312,64.7 312.6,64 314.1,63.1C315.6,62.2 318.6,61 320.1,61C321.6,61 322.4,62.1 323.1,63.1C323.9,64.1 324,67.1 324.6,67.1C325.2,67.1 326,64.9 326.6,63.1C327.2,61.3 327.5,57.6 328.2,56.5C328.9,55.4 330.2,55.9 330.7,56.5C331.2,57.1 331.3,58.8 331,60C330.7,61.2 329.3,63.3 329,64"/>
<path d="M674.5,315 674.5,322"/>
<path d="M258.8,120C260.4,120.3 265.6,121 268.8,121.9C271.9,122.7 275,123.6 277.5,125C280,126.4 281.9,128.1 283.8,130C285.6,131.9 287.7,134.2 288.8,136.2C289.8,138.3 289.8,139.8 290,142.5C290.2,145.2 290.4,150.4 290,152.5C289.6,154.6 288.6,154.4 287.5,155C286.4,155.6 283.6,155.2 283.1,156.2C282.6,157.3 283.6,159.9 284.4,161.2C285.1,162.6 286.1,163.4 287.5,164.4C288.9,165.3 291.7,166.5 292.5,166.9"/>
<path d="M300,120C300.4,121 302,124.2 302.5,126.2C303,128.3 303.3,130.2 303.1,132.5C302.9,134.8 302,137.7 301.2,140C300.5,142.3 299.5,144.2 298.8,146.2C298,148.3 297.7,151 296.9,152.5C296,154 294.9,154.7 293.8,155C292.6,155.3 290.6,154.5 290,154.4"/>
<path d="M287.5,172.5C287.5,175.8 287.7,188.4 287.5,192.5C287.3,196.6 286.5,196.2 286.2,197"/>
<path d="M288.1,190C287.9,190.8 287.4,192.9 286.9,195C286.4,197.1 285.6,199.8 285,202.5C284.4,205.2 283.8,208.9 283.1,211.2C282.5,213.6 282.4,215.2 281.2,216.9C280.1,218.5 278.5,220.2 276.2,221.2C274,222.3 270.6,222.9 267.5,223.1C264.4,223.4 260.4,222.5 257.5,222.8C254.6,223 253.3,224 250,224.4C246.7,224.8 241.2,224.7 237.5,225C233.8,225.3 230.6,225.7 227.5,226.2C224.4,226.8 221.7,227.2 218.8,228.1C215.8,229.1 212.5,230.7 210,231.9C207.5,233 205.4,234.2 203.8,235C202.1,235.8 200.6,236.6 200,236.9"/>
<path d="M180,268.1C178.8,269.5 175.2,273.6 172.5,276.2C169.8,278.9 166.4,281.5 163.8,283.8C161.1,286 158.5,287.9 156.9,290C155.2,292.1 154.7,294.2 153.8,296.2C152.8,298.3 151.7,301.5 151.2,302.5"/>
<path d="M185,258.1C183.8,259.3 179.8,262.4 177.5,265C175.2,267.6 174,270.8 171.2,273.8C168.5,276.7 163.1,281.1 161.2,282.5C159.4,283.9 160.2,283.5 160,281.9C159.8,280.2 159.8,275.3 160,272.5C160.2,269.7 160.6,266.9 161.2,265C161.9,263.1 163.3,261.9 163.8,261.2"/>
<path d="M161.2,282.5C162.9,281.5 168.1,278.5 171.2,276.2C174.4,274 177.7,271.7 180,268.8C182.3,265.8 184.2,260.4 185,258.8"/>
<path d="M151.2,302.5C150.2,302.9 146.5,303.3 145,305C143.5,306.7 142.5,310.2 142.5,312.5C142.5,314.8 144.4,316.7 145,318.8C145.6,320.8 145.9,323.1 146.2,325C146.6,326.9 147.5,328.3 146.9,330C146.2,331.7 142.8,333.8 142.5,335C142.2,336.2 144.4,335.4 145,337.5C145.6,339.6 145.9,344.4 146.2,347.5C146.6,350.6 146.9,353.3 146.9,356.2C146.9,359.2 147,360.8 146.2,365C145.5,369.2 143.1,378.5 142.5,381.2"/>
<path d="M142.5,376.2C142.1,377.5 140.9,381.2 140,383.8C139.1,386.2 137.7,389.4 136.9,391.2C136,393.1 135.2,393 135,395C134.8,397 135.4,401 135.6,403.1C135.8,405.2 136.7,405.9 136.2,407.5C135.8,409.1 133.3,410.4 133.1,412.5C132.9,414.6 134.7,418.8 135,420"/>
<path d="M125,403.8 135.6,403.1"/>
<path d="M135.6,420C135.6,421.9 135.1,428.8 135.6,431.2C136.1,433.8 138.3,433.3 138.8,435C139.2,436.7 138.8,439.2 138.1,441.2C137.5,443.3 136.2,445.3 135,447.5C133.8,449.7 132.3,452.3 130.6,454.4C129,456.5 125.9,459.1 125,460"/>
</g>
<defs><clipPath id="frame"><rect x="124.0" y="54.5" width="551.5" height="509.5"/></clipPath></defs>
<rect x="124" y="55" width="551" height="509" fill="none" stroke="#000" stroke-width="2" shape-rendering="crispEdges"/>
<g stroke="#000" stroke-width="1" shape-rendering="crispEdges">
<path d="M124.5,564 V568"/><path d="M194.5,564 V568"/><path d="M265.5,564 V568"/><path d="M336.5,564 V568"/><path d="M406.5,564 V568"/><path d="M477.5,564 V568"/><path d="M548.5,564 V568"/><path d="M619.5,564 V568"/><path d="M119.5,530.5 H124"/><path d="M119.5,445.5 H124"/><path d="M119.5,360.5 H124"/><path d="M119.5,275.5 H124"/><path d="M119.5,191.5 H124"/><path d="M119.5,106.5 H124"/>
</g>
<g font-size="13" fill="#000">
<text x="112.7" y="580" textLength="23.4" lengthAdjust="spacingAndGlyphs">28.5</text><text x="188.9" y="580" textLength="12.4" lengthAdjust="spacingAndGlyphs">29</text><text x="254.1" y="580" textLength="23.4" lengthAdjust="spacingAndGlyphs">29.5</text><text x="330.4" y="580" textLength="12.4" lengthAdjust="spacingAndGlyphs">30</text><text x="395.6" y="580" textLength="23.4" lengthAdjust="spacingAndGlyphs">30.5</text><text x="471.8" y="580" textLength="12.4" lengthAdjust="spacingAndGlyphs">31</text><text x="537" y="580" textLength="23.4" lengthAdjust="spacingAndGlyphs">31.5</text><text x="613.3" y="580" textLength="12.4" lengthAdjust="spacingAndGlyphs">32</text><text x="104.3" y="534.8" textLength="12.4" lengthAdjust="spacingAndGlyphs">43</text><text x="93.3" y="450" textLength="23.4" lengthAdjust="spacingAndGlyphs">43.5</text><text x="104.3" y="365.2" textLength="12.4" lengthAdjust="spacingAndGlyphs">44</text><text x="93.3" y="280.4" textLength="23.4" lengthAdjust="spacingAndGlyphs">44.5</text><text x="104.3" y="195.6" textLength="12.4" lengthAdjust="spacingAndGlyphs">45</text><text x="93.3" y="110.8" textLength="23.4" lengthAdjust="spacingAndGlyphs">45.5</text>
</g>
<g font-size="18.3" fill="#000" stroke="#fff" stroke-width="0.2"><text x="147" y="109.5" textLength="11" lengthAdjust="spacingAndGlyphs">Z</text><text x="176" y="109.5" textLength="12.75" lengthAdjust="spacingAndGlyphs">=</text><text x="206" y="109.5" textLength="34" lengthAdjust="spacingAndGlyphs">2.5</text><text x="256" y="109.5" textLength="18" lengthAdjust="spacingAndGlyphs">m</text></g>
<g font-size="24.5" fill="#000"><text x="77" y="42.5" textLength="76.75" lengthAdjust="spacingAndGlyphs">Salinity</text><text x="168.75" y="42.5" textLength="61.25" lengthAdjust="spacingAndGlyphs">(ppt).</text><text x="245.5" y="42.5" textLength="49.0" lengthAdjust="spacingAndGlyphs">Date</text><text x="310.5" y="42.5" textLength="134.0" lengthAdjust="spacingAndGlyphs">2019.11.18.</text><text x="461" y="42.5" textLength="49" lengthAdjust="spacingAndGlyphs">Time</text><text x="526" y="42.5" textLength="138" lengthAdjust="spacingAndGlyphs">00(h):00(m)</text><text x="682" y="42.5" textLength="42.5" lengthAdjust="spacingAndGlyphs" stroke="#000" stroke-width="0.35">GMT</text></g>
<g font-size="19.2" fill="#000" stroke="#000" stroke-width="0.25"><text x="324" y="605.5" textLength="85" lengthAdjust="spacingAndGlyphs">Langitude</text><text x="421.8" y="605.5" textLength="53.6" lengthAdjust="spacingAndGlyphs">(East)</text><text transform="translate(82,383) rotate(-90)" textLength="74.3" lengthAdjust="spacingAndGlyphs">Latitude</text><text transform="translate(82,300) rotate(-90)" textLength="64" lengthAdjust="spacingAndGlyphs">(North)</text></g>
<g shape-rendering="crispEdges"><rect x="708" y="550.8" width="16" height="6.5" fill="#000086"/><rect x="708" y="544.6" width="16" height="6.5" fill="#000093"/><rect x="708" y="538.4" width="16" height="6.5" fill="#00009f"/><rect x="708" y="532.2" width="16" height="6.5" fill="#0000ac"/><rect x="708" y="526" width="16" height="6.5" fill="#0000b9"/><rect x="708" y="519.8" width="16" height="6.5" fill="#0000c6"/><rect x="708" y="513.6" width="16" height="6.5" fill="#0000d2"/><rect x="708" y="507.4" width="16" height="6.5" fill="#0000df"/><rect x="708" y="501.2" width="16" height="6.5" fill="#0000ec"/><rect x="708" y="495" width="16" height="6.5" fill="#0000f9"/><rect x="708" y="488.8" width="16" height="6.5" fill="#0006ff"/><rect x="708" y="482.6" width="16" height="6.5" fill="#0013ff"/><rect x="708" y="476.4" width="16" height="6.5" fill="#0020ff"/><rect x="708" y="470.2" width="16" height="6.5" fill="#002dff"/><rect x="708" y="464" width="16" height="6.5" fill="#0039ff"/><rect x="708" y="457.8" width="16" height="6.5" fill="#0046ff"/><rect x="708" y="451.6" width="16" height="6.5" fill="#0053ff"/><rect x="708" y="445.4" width="16" height="6.5" fill="#0060ff"/><rect x="708" y="439.2" width="16" height="6.5" fill="#006cff"/><rect x="708" y="433" width="16" height="6.5" fill="#0079ff"/><rect x="708" y="426.8" width="16" height="6.5" fill="#0086ff"/><rect x="708" y="420.6" width="16" height="6.5" fill="#0093ff"/><rect x="708" y="414.4" width="16" height="6.5" fill="#009fff"/><rect x="708" y="408.2" width="16" height="6.5" fill="#00acff"/><rect x="708" y="402" width="16" height="6.5" fill="#00b9ff"/><rect x="708" y="395.8" width="16" height="6.5" fill="#00c6ff"/><rect x="708" y="389.6" width="16" height="6.5" fill="#00d2ff"/><rect x="708" y="383.4" width="16" height="6.5" fill="#00dfff"/><rect x="708" y="377.2" width="16" height="6.5" fill="#00ecff"/><rect x="708" y="371" width="16" height="6.5" fill="#00f9ff"/><rect x="708" y="364.8" width="16" height="6.5" fill="#06fff9"/><rect x="708" y="358.6" width="16" height="6.5" fill="#13ffec"/><rect x="708" y="352.4" width="16" height="6.5" fill="#20ffdf"/><rect x="708" y="346.2" width="16" height="6.5" fill="#2dffd2"/><rect x="708" y="340" width="16" height="6.5" fill="#39ffc6"/><rect x="708" y="333.8" width="16" height="6.5" fill="#46ffb9"/><rect x="708" y="327.6" width="16" height="6.5" fill="#53ffac"/><rect x="708" y="321.4" width="16" height="6.5" fill="#60ff9f"/><rect x="708" y="315.2" width="16" height="6.5" fill="#6cff93"/><rect x="708" y="309" width="16" height="6.5" fill="#79ff86"/><rect x="708" y="302.8" width="16" height="6.5" fill="#86ff79"/><rect x="708" y="296.6" width="16" height="6.5" fill="#93ff6c"/><rect x="708" y="290.4" width="16" height="6.5" fill="#9fff60"/><rect x="708" y="284.2" width="16" height="6.5" fill="#acff53"/><rect x="708" y="278" width="16" height="6.5" fill="#b9ff46"/><rect x="708" y="271.8" width="16" height="6.5" fill="#c6ff39"/><rect x="708" y="265.6" width="16" height="6.5" fill="#d2ff2d"/><rect x="708" y="259.4" width="16" height="6.5" fill="#dfff20"/><rect x="708" y="253.2" width="16" height="6.5" fill="#ecff13"/><rect x="708" y="247" width="16" height="6.5" fill="#f9ff06"/><rect x="708" y="240.8" width="16" height="6.5" fill="#fff900"/><rect x="708" y="234.6" width="16" height="6.5" fill="#ffec00"/><rect x="708" y="228.4" width="16" height="6.5" fill="#ffdf00"/><rect x="708" y="222.2" width="16" height="6.5" fill="#ffd200"/><rect x="708" y="216" width="16" height="6.5" fill="#ffc600"/><rect x="708" y="209.8" width="16" height="6.5" fill="#ffb900"/><rect x="708" y="203.6" width="16" height="6.5" fill="#ffac00"/><rect x="708" y="197.4" width="16" height="6.5" fill="#ff9f00"/><rect x="708" y="191.2" width="16" height="6.5" fill="#ff9300"/><rect x="708" y="185" width="16" height="6.5" fill="#ff8600"/><rect x="708" y="178.8" width="16" height="6.5" fill="#ff7900"/><rect x="708" y="172.6" width="16" height="6.5" fill="#ff6c00"/><rect x="708" y="166.4" width="16" height="6.5" fill="#ff6000"/><rect x="708" y="160.2" width="16" height="6.5" fill="#ff5300"/><rect x="708" y="154" width="16" height="6.5" fill="#ff4600"/><rect x="708" y="147.8" width="16" height="6.5" fill="#ff3900"/><rect x="708" y="141.6" width="16" height="6.5" fill="#ff2d00"/><rect x="708" y="135.4" width="16" height="6.5" fill="#ff2000"/><rect x="708" y="129.2" width="16" height="6.5" fill="#ff1300"/><rect x="708" y="123" width="16" height="6.5" fill="#ff0600"/><rect x="708" y="116.8" width="16" height="6.5" fill="#f90000"/><rect x="708" y="110.6" width="16" height="6.5" fill="#ec0000"/><rect x="708" y="104.4" width="16" height="6.5" fill="#df0000"/><rect x="708" y="98.2" width="16" height="6.5" fill="#d20000"/><rect x="708" y="92" width="16" height="6.5" fill="#c60000"/><rect x="708" y="85.8" width="16" height="6.5" fill="#b90000"/><rect x="708" y="79.6" width="16" height="6.5" fill="#ac0000"/><rect x="708" y="73.4" width="16" height="6.5" fill="#9f0000"/><rect x="708" y="67.2" width="16" height="6.5" fill="#930000"/><rect x="708" y="61" width="16" height="6.5" fill="#860000"/></g>
<g font-size="14" fill="#000"><text x="735.8" y="73.8" textLength="28.5" lengthAdjust="spacingAndGlyphs">18.6</text><text x="735.8" y="190" textLength="28.5" lengthAdjust="spacingAndGlyphs">17.2</text><text x="735.8" y="311.8" textLength="28.5" lengthAdjust="spacingAndGlyphs">15.7</text><text x="735.8" y="433.8" textLength="28.5" lengthAdjust="spacingAndGlyphs">14.2</text><text x="735.8" y="555.2" textLength="28.5" lengthAdjust="spacingAndGlyphs">12.7</text></g>
</svg>
</body></html>
